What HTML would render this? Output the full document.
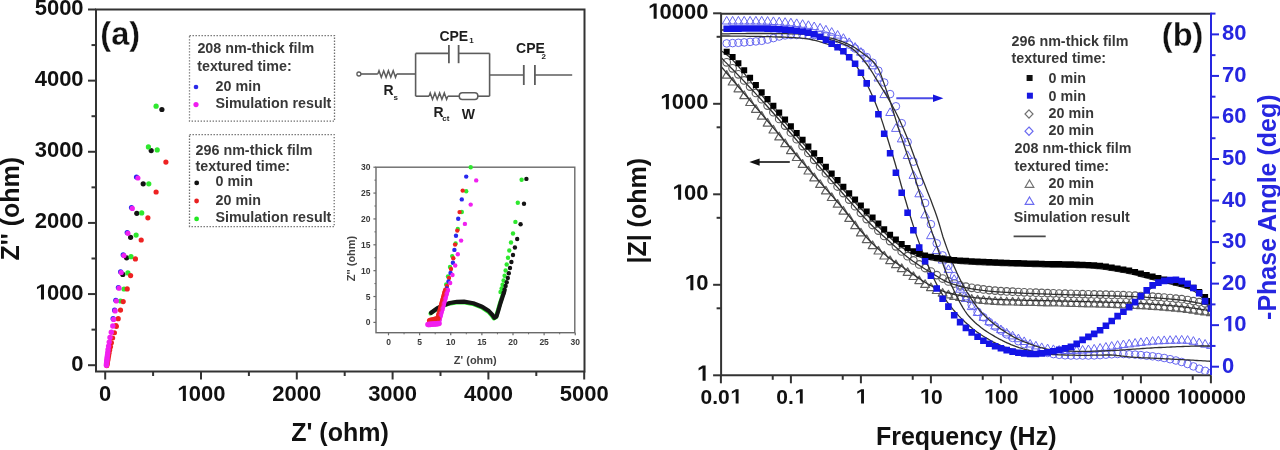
<!DOCTYPE html>
<html><head><meta charset="utf-8"><style>
html,body{margin:0;padding:0;background:#fff;}
svg{display:block;font-family:"Liberation Sans", sans-serif;filter:blur(0.45px);}
</style></head><body>
<svg width="1280" height="450" viewBox="0 0 1280 450">
<defs><clipPath id="clipb"><rect x="721.9" y="14.3" width="488.1" height="360"/></clipPath><clipPath id="clipa"><rect x="97" y="10.5" width="486.5" height="360"/></clipPath></defs>
<rect width="1280" height="450" fill="#fff"/>
<rect x="96" y="9.5" width="488.5" height="362.0" fill="none" stroke="#333333" stroke-width="2"/>
<line x1="105.20" y1="371.50" x2="105.20" y2="379.50" stroke="#333333" stroke-width="2" />
<text x="99.08" y="401.00" font-size="22" text-anchor="start" fill="#111" font-weight="bold" >0</text>
<line x1="88.00" y1="365.20" x2="96.00" y2="365.20" stroke="#333333" stroke-width="2" />
<text x="71.36" y="370.70" font-size="22" text-anchor="start" fill="#111" font-weight="bold" >0</text>
<line x1="201.00" y1="371.50" x2="201.00" y2="379.50" stroke="#333333" stroke-width="2" />
<polygon points="182.85,401.00 185.86,401.00 185.86,385.86 183.01,385.86 178.84,388.38 178.84,390.79 182.85,388.43" fill="#111"/>
<text x="188.76" y="401.00" font-size="22" text-anchor="start" fill="#111" font-weight="bold" >000</text>
<line x1="88.00" y1="294.06" x2="96.00" y2="294.06" stroke="#333333" stroke-width="2" />
<polygon points="40.97,299.56 43.99,299.56 43.99,284.42 41.14,284.42 36.97,286.94 36.97,289.35 40.97,286.99" fill="#111"/>
<text x="46.89" y="299.56" font-size="22" text-anchor="start" fill="#111" font-weight="bold" >000</text>
<line x1="296.80" y1="371.50" x2="296.80" y2="379.50" stroke="#333333" stroke-width="2" />
<text x="272.33" y="401.00" font-size="22" text-anchor="start" fill="#111" font-weight="bold" >2000</text>
<line x1="88.00" y1="222.92" x2="96.00" y2="222.92" stroke="#333333" stroke-width="2" />
<text x="34.66" y="228.42" font-size="22" text-anchor="start" fill="#111" font-weight="bold" >2000</text>
<line x1="392.60" y1="371.50" x2="392.60" y2="379.50" stroke="#333333" stroke-width="2" />
<text x="368.13" y="401.00" font-size="22" text-anchor="start" fill="#111" font-weight="bold" >3000</text>
<line x1="88.00" y1="151.78" x2="96.00" y2="151.78" stroke="#333333" stroke-width="2" />
<text x="34.66" y="157.28" font-size="22" text-anchor="start" fill="#111" font-weight="bold" >3000</text>
<line x1="488.40" y1="371.50" x2="488.40" y2="379.50" stroke="#333333" stroke-width="2" />
<text x="463.93" y="401.00" font-size="22" text-anchor="start" fill="#111" font-weight="bold" >4000</text>
<line x1="88.00" y1="80.64" x2="96.00" y2="80.64" stroke="#333333" stroke-width="2" />
<text x="34.66" y="86.14" font-size="22" text-anchor="start" fill="#111" font-weight="bold" >4000</text>
<line x1="584.20" y1="371.50" x2="584.20" y2="379.50" stroke="#333333" stroke-width="2" />
<text x="559.73" y="401.00" font-size="22" text-anchor="start" fill="#111" font-weight="bold" >5000</text>
<line x1="88.00" y1="9.50" x2="96.00" y2="9.50" stroke="#333333" stroke-width="2" />
<text x="34.66" y="15.00" font-size="22" text-anchor="start" fill="#111" font-weight="bold" >5000</text>
<line x1="153.10" y1="371.50" x2="153.10" y2="376.00" stroke="#333333" stroke-width="2" />
<line x1="91.50" y1="329.63" x2="96.00" y2="329.63" stroke="#333333" stroke-width="2" />
<line x1="248.90" y1="371.50" x2="248.90" y2="376.00" stroke="#333333" stroke-width="2" />
<line x1="91.50" y1="258.49" x2="96.00" y2="258.49" stroke="#333333" stroke-width="2" />
<line x1="344.70" y1="371.50" x2="344.70" y2="376.00" stroke="#333333" stroke-width="2" />
<line x1="91.50" y1="187.35" x2="96.00" y2="187.35" stroke="#333333" stroke-width="2" />
<line x1="440.50" y1="371.50" x2="440.50" y2="376.00" stroke="#333333" stroke-width="2" />
<line x1="91.50" y1="116.21" x2="96.00" y2="116.21" stroke="#333333" stroke-width="2" />
<line x1="536.30" y1="371.50" x2="536.30" y2="376.00" stroke="#333333" stroke-width="2" />
<line x1="91.50" y1="45.07" x2="96.00" y2="45.07" stroke="#333333" stroke-width="2" />
<text x="340.00" y="440.60" font-size="25" text-anchor="middle" fill="#111" font-weight="bold" >Z' (ohm)</text>
<text transform="translate(18.5,208.7) rotate(-90)" font-size="25" font-weight="bold" text-anchor="middle" fill="#111">Z'' (ohm)</text>
<text x="100.30" y="44.70" font-size="32.6" text-anchor="start" fill="#111" font-weight="bold" stroke="#fff" stroke-width="0.3">(a)</text>
<line x1="721.10" y1="13.70" x2="1211.00" y2="13.70" stroke="#333333" stroke-width="2" />
<line x1="721.10" y1="375.30" x2="1211.00" y2="375.30" stroke="#333333" stroke-width="2" />
<line x1="721.10" y1="12.70" x2="721.10" y2="376.30" stroke="#333333" stroke-width="2" />
<line x1="1211.00" y1="12.70" x2="1211.00" y2="375.30" stroke="#2626e0" stroke-width="2" />
<line x1="720.90" y1="375.30" x2="720.90" y2="383.30" stroke="#333333" stroke-width="2" />
<text x="700.46" y="403.60" font-size="21" text-anchor="start" fill="#111" font-weight="bold" >0.0</text>
<polygon points="735.69,403.60 738.57,403.60 738.57,389.15 735.84,389.15 731.86,391.55 731.86,393.86 735.69,391.60" fill="#111"/>
<line x1="772.73" y1="375.30" x2="772.73" y2="379.80" stroke="#333333" stroke-width="2" />
<line x1="790.90" y1="375.30" x2="790.90" y2="383.30" stroke="#333333" stroke-width="2" />
<text x="776.30" y="403.60" font-size="21" text-anchor="start" fill="#111" font-weight="bold" >0.</text>
<polygon points="799.85,403.60 802.73,403.60 802.73,389.15 800.00,389.15 796.02,391.55 796.02,393.86 799.85,391.60" fill="#111"/>
<line x1="842.73" y1="375.30" x2="842.73" y2="379.80" stroke="#333333" stroke-width="2" />
<line x1="860.90" y1="375.30" x2="860.90" y2="383.30" stroke="#333333" stroke-width="2" />
<polygon points="861.09,403.60 863.97,403.60 863.97,389.15 861.24,389.15 857.26,391.55 857.26,393.86 861.09,391.60" fill="#111"/>
<line x1="912.73" y1="375.30" x2="912.73" y2="379.80" stroke="#333333" stroke-width="2" />
<line x1="930.90" y1="375.30" x2="930.90" y2="383.30" stroke="#333333" stroke-width="2" />
<polygon points="925.25,403.60 928.13,403.60 928.13,389.15 925.40,389.15 921.43,391.55 921.43,393.86 925.25,391.60" fill="#111"/>
<text x="930.90" y="403.60" font-size="21" text-anchor="start" fill="#111" font-weight="bold" >0</text>
<line x1="982.73" y1="375.30" x2="982.73" y2="379.80" stroke="#333333" stroke-width="2" />
<line x1="1000.90" y1="375.30" x2="1000.90" y2="383.30" stroke="#333333" stroke-width="2" />
<polygon points="989.41,403.60 992.29,403.60 992.29,389.15 989.56,389.15 985.59,391.55 985.59,393.86 989.41,391.60" fill="#111"/>
<text x="995.06" y="403.60" font-size="21" text-anchor="start" fill="#111" font-weight="bold" >00</text>
<line x1="1052.73" y1="375.30" x2="1052.73" y2="379.80" stroke="#333333" stroke-width="2" />
<line x1="1070.90" y1="375.30" x2="1070.90" y2="383.30" stroke="#333333" stroke-width="2" />
<polygon points="1053.57,403.60 1056.45,403.60 1056.45,389.15 1053.72,389.15 1049.75,391.55 1049.75,393.86 1053.57,391.60" fill="#111"/>
<text x="1059.22" y="403.60" font-size="21" text-anchor="start" fill="#111" font-weight="bold" >000</text>
<line x1="1122.73" y1="375.30" x2="1122.73" y2="379.80" stroke="#333333" stroke-width="2" />
<line x1="1140.90" y1="375.30" x2="1140.90" y2="383.30" stroke="#333333" stroke-width="2" />
<polygon points="1117.73,403.60 1120.61,403.60 1120.61,389.15 1117.89,389.15 1113.91,391.55 1113.91,393.86 1117.73,391.60" fill="#111"/>
<text x="1123.38" y="403.60" font-size="21" text-anchor="start" fill="#111" font-weight="bold" >0000</text>
<line x1="1192.73" y1="375.30" x2="1192.73" y2="379.80" stroke="#333333" stroke-width="2" />
<line x1="1210.90" y1="375.30" x2="1210.90" y2="383.30" stroke="#333333" stroke-width="2" />
<polygon points="1181.89,403.60 1184.77,403.60 1184.77,389.15 1182.05,389.15 1178.07,391.55 1178.07,393.86 1181.89,391.60" fill="#111"/>
<text x="1187.54" y="403.60" font-size="21" text-anchor="start" fill="#111" font-weight="bold" >00000</text>
<line x1="713.10" y1="375.30" x2="721.10" y2="375.30" stroke="#333333" stroke-width="2" />
<polygon points="702.58,380.70 705.60,380.70 705.60,365.56 702.74,365.56 698.57,368.08 698.57,370.49 702.58,368.13" fill="#111"/>
<line x1="716.60" y1="308.30" x2="721.10" y2="308.30" stroke="#333333" stroke-width="2" />
<line x1="713.10" y1="284.80" x2="721.10" y2="284.80" stroke="#333333" stroke-width="2" />
<polygon points="690.35,290.20 693.36,290.20 693.36,275.06 690.51,275.06 686.34,277.58 686.34,279.99 690.35,277.63" fill="#111"/>
<text x="696.26" y="290.20" font-size="22" text-anchor="start" fill="#111" font-weight="bold" >0</text>
<line x1="716.60" y1="217.80" x2="721.10" y2="217.80" stroke="#333333" stroke-width="2" />
<line x1="713.10" y1="194.30" x2="721.10" y2="194.30" stroke="#333333" stroke-width="2" />
<polygon points="678.11,199.70 681.13,199.70 681.13,184.56 678.27,184.56 674.10,187.08 674.10,189.49 678.11,187.13" fill="#111"/>
<text x="684.03" y="199.70" font-size="22" text-anchor="start" fill="#111" font-weight="bold" >00</text>
<line x1="716.60" y1="127.30" x2="721.10" y2="127.30" stroke="#333333" stroke-width="2" />
<line x1="713.10" y1="103.80" x2="721.10" y2="103.80" stroke="#333333" stroke-width="2" />
<polygon points="665.88,109.20 668.89,109.20 668.89,94.06 666.04,94.06 661.87,96.58 661.87,98.99 665.88,96.63" fill="#111"/>
<text x="671.79" y="109.20" font-size="22" text-anchor="start" fill="#111" font-weight="bold" >000</text>
<line x1="716.60" y1="36.80" x2="721.10" y2="36.80" stroke="#333333" stroke-width="2" />
<line x1="713.10" y1="13.30" x2="721.10" y2="13.30" stroke="#333333" stroke-width="2" />
<polygon points="653.64,18.70 656.66,18.70 656.66,3.56 653.80,3.56 649.63,6.08 649.63,8.49 653.64,6.13" fill="#111"/>
<text x="659.56" y="18.70" font-size="22" text-anchor="start" fill="#111" font-weight="bold" >0000</text>
<line x1="1211.00" y1="366.70" x2="1219.00" y2="366.70" stroke="#2626e0" stroke-width="2" />
<text x="1222.00" y="372.70" font-size="22" text-anchor="start" fill="#2626e0" font-weight="bold" >0</text>
<line x1="1211.00" y1="325.16" x2="1219.00" y2="325.16" stroke="#2626e0" stroke-width="2" />
<polygon points="1228.32,331.16 1231.33,331.16 1231.33,316.02 1228.48,316.02 1224.31,318.54 1224.31,320.95 1228.32,318.59" fill="#2626e0"/>
<text x="1234.24" y="331.16" font-size="22" text-anchor="start" fill="#2626e0" font-weight="bold" >0</text>
<line x1="1211.00" y1="283.62" x2="1219.00" y2="283.62" stroke="#2626e0" stroke-width="2" />
<text x="1222.00" y="289.62" font-size="22" text-anchor="start" fill="#2626e0" font-weight="bold" >20</text>
<line x1="1211.00" y1="242.08" x2="1219.00" y2="242.08" stroke="#2626e0" stroke-width="2" />
<text x="1222.00" y="248.08" font-size="22" text-anchor="start" fill="#2626e0" font-weight="bold" >30</text>
<line x1="1211.00" y1="200.54" x2="1219.00" y2="200.54" stroke="#2626e0" stroke-width="2" />
<text x="1222.00" y="206.54" font-size="22" text-anchor="start" fill="#2626e0" font-weight="bold" >40</text>
<line x1="1211.00" y1="159.00" x2="1219.00" y2="159.00" stroke="#2626e0" stroke-width="2" />
<text x="1222.00" y="165.00" font-size="22" text-anchor="start" fill="#2626e0" font-weight="bold" >50</text>
<line x1="1211.00" y1="117.46" x2="1219.00" y2="117.46" stroke="#2626e0" stroke-width="2" />
<text x="1222.00" y="123.46" font-size="22" text-anchor="start" fill="#2626e0" font-weight="bold" >60</text>
<line x1="1211.00" y1="75.92" x2="1219.00" y2="75.92" stroke="#2626e0" stroke-width="2" />
<text x="1222.00" y="81.92" font-size="22" text-anchor="start" fill="#2626e0" font-weight="bold" >70</text>
<line x1="1211.00" y1="34.38" x2="1219.00" y2="34.38" stroke="#2626e0" stroke-width="2" />
<text x="1222.00" y="40.38" font-size="22" text-anchor="start" fill="#2626e0" font-weight="bold" >80</text>
<line x1="1211.00" y1="345.93" x2="1215.50" y2="345.93" stroke="#2626e0" stroke-width="2" />
<line x1="1211.00" y1="304.39" x2="1215.50" y2="304.39" stroke="#2626e0" stroke-width="2" />
<line x1="1211.00" y1="262.85" x2="1215.50" y2="262.85" stroke="#2626e0" stroke-width="2" />
<line x1="1211.00" y1="221.31" x2="1215.50" y2="221.31" stroke="#2626e0" stroke-width="2" />
<line x1="1211.00" y1="179.77" x2="1215.50" y2="179.77" stroke="#2626e0" stroke-width="2" />
<line x1="1211.00" y1="138.23" x2="1215.50" y2="138.23" stroke="#2626e0" stroke-width="2" />
<line x1="1211.00" y1="96.69" x2="1215.50" y2="96.69" stroke="#2626e0" stroke-width="2" />
<line x1="1211.00" y1="55.15" x2="1215.50" y2="55.15" stroke="#2626e0" stroke-width="2" />
<line x1="1211.00" y1="13.61" x2="1215.50" y2="13.61" stroke="#2626e0" stroke-width="2" />
<text x="966.20" y="444.50" font-size="25" text-anchor="middle" fill="#111" font-weight="bold" >Frequency (Hz)</text>
<text transform="translate(645.5,210.8) rotate(-90)" font-size="25" font-weight="bold" text-anchor="middle" fill="#111">|Z| (ohm)</text>
<text transform="translate(1275.8,207.2) rotate(-90)" font-size="25" font-weight="bold" text-anchor="middle" fill="#2626e0">-Phase Angle (deg)</text>
<text x="1161.80" y="46.20" font-size="32.6" text-anchor="start" fill="#111" font-weight="bold" stroke="#fff" stroke-width="0.3">(b)</text>
<rect x="189.5" y="35.6" width="145" height="85.5" fill="none" stroke="#707070" stroke-width="1.3" stroke-dasharray="1.4 1.6"/>
<rect x="189.5" y="134.6" width="144.7" height="92" fill="none" stroke="#707070" stroke-width="1.3" stroke-dasharray="1.4 1.6"/>
<text x="197.40" y="53.40" font-size="14.3" text-anchor="start" fill="#383838" font-weight="bold" >208 nm-thick film</text>
<text x="197.20" y="71.40" font-size="14.3" text-anchor="start" fill="#383838" font-weight="bold" >textured time:</text>
<text x="215.60" y="90.60" font-size="14.3" text-anchor="start" fill="#383838" font-weight="bold" >20 min</text>
<text x="215.40" y="108.20" font-size="14.3" text-anchor="start" fill="#383838" font-weight="bold" >Simulation result</text>
<circle cx="196" cy="87" r="2.3" fill="#2a2ae8"/>
<circle cx="196" cy="104.6" r="2.6" fill="#f01cf0"/>
<text x="195.60" y="154.70" font-size="14.3" text-anchor="start" fill="#383838" font-weight="bold" >296 nm-thick film</text>
<text x="195.60" y="171.40" font-size="14.3" text-anchor="start" fill="#383838" font-weight="bold" >textured time:</text>
<text x="215.60" y="186.20" font-size="14.3" text-anchor="start" fill="#383838" font-weight="bold" >0 min</text>
<text x="215.60" y="204.50" font-size="14.3" text-anchor="start" fill="#383838" font-weight="bold" >20 min</text>
<text x="215.40" y="221.80" font-size="14.3" text-anchor="start" fill="#383838" font-weight="bold" >Simulation result</text>
<circle cx="196.7" cy="182.9" r="2.4" fill="#111"/>
<circle cx="196.6" cy="201" r="2.4" fill="#e82020"/>
<circle cx="196.6" cy="218.9" r="2.4" fill="#22e822"/>
<text x="1011.60" y="45.50" font-size="14.3" text-anchor="start" fill="#383838" font-weight="bold" >296 nm-thick film</text>
<text x="1011.60" y="63.40" font-size="14.3" text-anchor="start" fill="#383838" font-weight="bold" >textured time:</text>
<rect x="1026.6" y="75" width="6" height="6" fill="#111"/>
<text x="1048.60" y="83.00" font-size="14.3" text-anchor="start" fill="#383838" font-weight="bold" >0 min</text>
<rect x="1026.9" y="92.7" width="6" height="6" fill="#1818e0"/>
<text x="1048.60" y="100.70" font-size="14.3" text-anchor="start" fill="#383838" font-weight="bold" >0 min</text>
<path d="M1029 109.8 L1033 114 L1029 118.2 L1025 114 Z" fill="none" stroke="#707070" stroke-width="1.2"/>
<text x="1048.60" y="118.00" font-size="14.3" text-anchor="start" fill="#383838" font-weight="bold" >20 min</text>
<path d="M1029 127 L1033 131.2 L1029 135.4 L1025 131.2 Z" fill="none" stroke="#6a6af0" stroke-width="1.2"/>
<text x="1048.60" y="135.20" font-size="14.3" text-anchor="start" fill="#383838" font-weight="bold" >20 min</text>
<text x="1014.60" y="153.20" font-size="14.3" text-anchor="start" fill="#383838" font-weight="bold" >208 nm-thick film</text>
<text x="1014.60" y="171.10" font-size="14.3" text-anchor="start" fill="#383838" font-weight="bold" >textured time:</text>
<path d="M1029.5 180 L1033.8 187.3 L1025.2 187.3 Z" fill="none" stroke="#707070" stroke-width="1.2"/>
<text x="1048.60" y="188.20" font-size="14.3" text-anchor="start" fill="#383838" font-weight="bold" >20 min</text>
<path d="M1029.5 197 L1033.8 204.3 L1025.2 204.3 Z" fill="none" stroke="#6a6af0" stroke-width="1.2"/>
<text x="1048.60" y="205.40" font-size="14.3" text-anchor="start" fill="#383838" font-weight="bold" >20 min</text>
<text x="1013.80" y="222.40" font-size="14.3" text-anchor="start" fill="#383838" font-weight="bold" >Simulation result</text>
<line x1="1013.60" y1="236.40" x2="1045.70" y2="236.40" stroke="#4a4a4a" stroke-width="1.8" />
<circle cx="358.9" cy="74" r="2" fill="none" stroke="#5c5c5c" stroke-width="1.3"/>
<line x1="360.90" y1="74.00" x2="377.80" y2="74.00" stroke="#5c5c5c" stroke-width="1.6" />
<polyline points="377.8,74.0 379.0,70.8 381.3,77.2 383.7,70.8 386.1,77.2 388.4,70.8 390.8,77.2 393.2,70.8 395.5,77.2 396.7,74.0" fill="none" stroke="#5c5c5c" stroke-width="1.5"/>
<line x1="396.70" y1="74.00" x2="415.60" y2="74.00" stroke="#5c5c5c" stroke-width="1.6" />
<line x1="415.60" y1="53.40" x2="415.60" y2="96.20" stroke="#5c5c5c" stroke-width="1.6" />
<line x1="415.60" y1="53.40" x2="448.90" y2="53.40" stroke="#5c5c5c" stroke-width="1.6" />
<line x1="448.90" y1="45.00" x2="448.90" y2="63.20" stroke="#5c5c5c" stroke-width="1.8" />
<line x1="458.60" y1="45.00" x2="458.60" y2="63.20" stroke="#5c5c5c" stroke-width="1.8" />
<line x1="458.60" y1="53.40" x2="489.60" y2="53.40" stroke="#5c5c5c" stroke-width="1.6" />
<line x1="489.60" y1="53.40" x2="489.60" y2="96.20" stroke="#5c5c5c" stroke-width="1.6" />
<line x1="415.60" y1="96.20" x2="429.00" y2="96.20" stroke="#5c5c5c" stroke-width="1.6" />
<polyline points="429.0,96.2 430.2,93.0 432.5,99.4 434.9,93.0 437.2,99.4 439.6,93.0 441.9,99.4 444.3,93.0 446.6,99.4 447.8,96.2" fill="none" stroke="#5c5c5c" stroke-width="1.5"/>
<line x1="447.80" y1="96.20" x2="459.30" y2="96.20" stroke="#5c5c5c" stroke-width="1.6" />
<rect x="459.3" y="92.8" width="18.5" height="6.6" rx="3" fill="none" stroke="#5c5c5c" stroke-width="1.5"/>
<line x1="477.80" y1="96.20" x2="489.60" y2="96.20" stroke="#5c5c5c" stroke-width="1.6" />
<line x1="489.60" y1="75.00" x2="523.80" y2="75.00" stroke="#5c5c5c" stroke-width="1.6" />
<line x1="523.80" y1="65.00" x2="523.80" y2="85.00" stroke="#5c5c5c" stroke-width="1.8" />
<line x1="534.90" y1="65.00" x2="534.90" y2="85.00" stroke="#5c5c5c" stroke-width="1.8" />
<line x1="534.90" y1="75.00" x2="572.20" y2="75.00" stroke="#5c5c5c" stroke-width="1.6" />
<text x="439.40" y="41.40" font-size="14" text-anchor="start" fill="#1e1e1e" font-weight="bold" >CPE</text>
<text x="469.20" y="43.20" font-size="8" text-anchor="start" fill="#1e1e1e" font-weight="bold" >1</text>
<text x="516.10" y="52.80" font-size="14" text-anchor="start" fill="#1e1e1e" font-weight="bold" >CPE</text>
<text x="541.60" y="58.60" font-size="8" text-anchor="start" fill="#1e1e1e" font-weight="bold" >2</text>
<text x="383.60" y="95.20" font-size="14" text-anchor="start" fill="#1e1e1e" font-weight="bold" >R</text>
<text x="393.60" y="99.60" font-size="8" text-anchor="start" fill="#1e1e1e" font-weight="bold" >s</text>
<text x="433.60" y="116.80" font-size="14" text-anchor="start" fill="#1e1e1e" font-weight="bold" >R</text>
<text x="442.20" y="120.60" font-size="8" text-anchor="start" fill="#1e1e1e" font-weight="bold" >ct</text>
<text x="461.80" y="119.40" font-size="14" text-anchor="start" fill="#1e1e1e" font-weight="bold" >W</text>
<g clip-path="url(#clipb)">
<path d="M726.7 70.6L731.1 78.2L722.3 78.2ZM732.6 77.4L737.0 85.0L728.2 85.0ZM738.4 84.2L742.8 91.8L734.0 91.8ZM744.2 91.0L748.6 98.6L739.8 98.6ZM750.1 97.8L754.5 105.5L745.7 105.5ZM755.9 104.7L760.3 112.3L751.5 112.3ZM761.7 111.6L766.1 119.2L757.3 119.2ZM767.6 118.5L772.0 126.1L763.2 126.1ZM773.4 125.3L777.8 133.0L769.0 133.0ZM779.2 132.2L783.6 139.9L774.8 139.9ZM785.1 139.1L789.5 146.7L780.7 146.7ZM790.9 146.0L795.3 153.6L786.5 153.6ZM796.7 152.8L801.1 160.5L792.3 160.5ZM802.6 159.6L807.0 167.3L798.2 167.3ZM808.4 166.4L812.8 174.0L804.0 174.0ZM814.2 173.1L818.6 180.8L809.8 180.8ZM820.1 179.8L824.5 187.4L815.7 187.4ZM825.9 186.3L830.3 193.9L821.5 193.9ZM831.7 192.9L836.1 200.5L827.3 200.5ZM837.6 199.6L842.0 207.2L833.2 207.2ZM843.4 206.5L847.8 214.1L839.0 214.1ZM849.2 213.7L853.6 221.4L844.8 221.4ZM855.1 221.1L859.5 228.7L850.7 228.7ZM860.9 228.3L865.3 235.9L856.5 235.9ZM866.7 235.0L871.1 242.6L862.3 242.6ZM872.6 241.0L877.0 248.6L868.2 248.6ZM878.4 246.4L882.8 254.0L874.0 254.0ZM884.2 251.4L888.6 259.0L879.8 259.0ZM890.1 256.0L894.5 263.6L885.7 263.6ZM895.9 260.1L900.3 267.7L891.5 267.7ZM901.7 263.9L906.1 271.6L897.3 271.6ZM907.6 267.8L912.0 275.4L903.2 275.4ZM913.4 271.9L917.8 279.5L909.0 279.5ZM919.2 276.0L923.6 283.6L914.8 283.6ZM925.1 279.8L929.5 287.4L920.7 287.4ZM930.9 283.0L935.3 290.6L926.5 290.6ZM936.7 285.9L941.1 293.5L932.3 293.5ZM942.6 288.5L947.0 296.1L938.2 296.1ZM948.4 290.3L952.8 297.9L944.0 297.9ZM954.2 291.7L958.6 299.4L949.8 299.4ZM960.1 292.9L964.5 300.5L955.7 300.5ZM965.9 293.9L970.3 301.5L961.5 301.5ZM971.7 294.6L976.1 302.3L967.3 302.3ZM977.6 295.3L982.0 302.9L973.2 302.9ZM983.4 295.8L987.8 303.5L979.0 303.5ZM989.2 296.3L993.6 303.9L984.8 303.9ZM995.1 296.7L999.5 304.3L990.7 304.3ZM1000.9 297.0L1005.3 304.6L996.5 304.6ZM1006.7 297.2L1011.1 304.8L1002.3 304.8ZM1012.6 297.4L1017.0 305.0L1008.2 305.0ZM1018.4 297.5L1022.8 305.1L1014.0 305.1ZM1024.2 297.7L1028.6 305.3L1019.8 305.3ZM1030.1 297.8L1034.5 305.4L1025.7 305.4ZM1035.9 297.9L1040.3 305.5L1031.5 305.5ZM1041.7 298.0L1046.1 305.6L1037.3 305.6ZM1047.6 298.1L1052.0 305.8L1043.2 305.8ZM1053.4 298.3L1057.8 305.9L1049.0 305.9ZM1059.2 298.4L1063.6 306.0L1054.8 306.0ZM1065.1 298.6L1069.5 306.2L1060.7 306.2ZM1070.9 298.7L1075.3 306.3L1066.5 306.3ZM1076.7 298.8L1081.1 306.5L1072.3 306.5ZM1082.6 299.0L1087.0 306.6L1078.2 306.6ZM1088.4 299.1L1092.8 306.8L1084.0 306.8ZM1094.2 299.3L1098.6 306.9L1089.8 306.9ZM1100.1 299.4L1104.5 307.1L1095.7 307.1ZM1105.9 299.6L1110.3 307.2L1101.5 307.2ZM1111.7 299.8L1116.1 307.4L1107.3 307.4ZM1117.6 300.0L1122.0 307.6L1113.2 307.6ZM1123.4 300.2L1127.8 307.8L1119.0 307.8ZM1129.2 300.4L1133.6 308.0L1124.8 308.0ZM1135.1 300.7L1139.5 308.3L1130.7 308.3ZM1140.9 301.0L1145.3 308.6L1136.5 308.6ZM1146.7 301.3L1151.1 308.9L1142.3 308.9ZM1152.6 301.7L1157.0 309.3L1148.2 309.3ZM1158.4 302.1L1162.8 309.7L1154.0 309.7ZM1164.2 302.5L1168.6 310.2L1159.8 310.2ZM1170.1 303.0L1174.5 310.6L1165.7 310.6ZM1175.9 303.5L1180.3 311.2L1171.5 311.2ZM1181.7 304.1L1186.1 311.7L1177.3 311.7ZM1187.6 304.8L1192.0 312.4L1183.2 312.4ZM1193.4 305.6L1197.8 313.2L1189.0 313.2ZM1199.2 306.5L1203.6 314.1L1194.8 314.1ZM1205.1 307.3L1209.5 314.9L1200.7 314.9ZM1210.9 308.0L1215.3 315.7L1206.5 315.7Z" fill="none" stroke="#606060" stroke-width="1.2" stroke-linejoin="round"/>
<circle cx="726.7" cy="62.3" r="3.8" fill="none" stroke="#606060" stroke-width="1.15"/>
<circle cx="732.6" cy="68.3" r="3.8" fill="none" stroke="#606060" stroke-width="1.15"/>
<circle cx="738.4" cy="74.3" r="3.8" fill="none" stroke="#606060" stroke-width="1.15"/>
<circle cx="744.2" cy="80.4" r="3.8" fill="none" stroke="#606060" stroke-width="1.15"/>
<circle cx="750.1" cy="86.6" r="3.8" fill="none" stroke="#606060" stroke-width="1.15"/>
<circle cx="755.9" cy="92.9" r="3.8" fill="none" stroke="#606060" stroke-width="1.15"/>
<circle cx="761.7" cy="99.2" r="3.8" fill="none" stroke="#606060" stroke-width="1.15"/>
<circle cx="767.6" cy="105.6" r="3.8" fill="none" stroke="#606060" stroke-width="1.15"/>
<circle cx="773.4" cy="112.2" r="3.8" fill="none" stroke="#606060" stroke-width="1.15"/>
<circle cx="779.2" cy="118.9" r="3.8" fill="none" stroke="#606060" stroke-width="1.15"/>
<circle cx="785.1" cy="125.6" r="3.8" fill="none" stroke="#606060" stroke-width="1.15"/>
<circle cx="790.9" cy="132.4" r="3.8" fill="none" stroke="#606060" stroke-width="1.15"/>
<circle cx="796.7" cy="139.2" r="3.8" fill="none" stroke="#606060" stroke-width="1.15"/>
<circle cx="802.6" cy="146.1" r="3.8" fill="none" stroke="#606060" stroke-width="1.15"/>
<circle cx="808.4" cy="152.9" r="3.8" fill="none" stroke="#606060" stroke-width="1.15"/>
<circle cx="814.2" cy="159.8" r="3.8" fill="none" stroke="#606060" stroke-width="1.15"/>
<circle cx="820.1" cy="166.5" r="3.8" fill="none" stroke="#606060" stroke-width="1.15"/>
<circle cx="825.9" cy="173.2" r="3.8" fill="none" stroke="#606060" stroke-width="1.15"/>
<circle cx="831.7" cy="179.9" r="3.8" fill="none" stroke="#606060" stroke-width="1.15"/>
<circle cx="837.6" cy="186.5" r="3.8" fill="none" stroke="#606060" stroke-width="1.15"/>
<circle cx="843.4" cy="193.1" r="3.8" fill="none" stroke="#606060" stroke-width="1.15"/>
<circle cx="849.2" cy="199.6" r="3.8" fill="none" stroke="#606060" stroke-width="1.15"/>
<circle cx="855.1" cy="206.2" r="3.8" fill="none" stroke="#606060" stroke-width="1.15"/>
<circle cx="860.9" cy="212.8" r="3.8" fill="none" stroke="#606060" stroke-width="1.15"/>
<circle cx="866.7" cy="219.1" r="3.8" fill="none" stroke="#606060" stroke-width="1.15"/>
<circle cx="872.6" cy="225.0" r="3.8" fill="none" stroke="#606060" stroke-width="1.15"/>
<circle cx="878.4" cy="230.6" r="3.8" fill="none" stroke="#606060" stroke-width="1.15"/>
<circle cx="884.2" cy="235.9" r="3.8" fill="none" stroke="#606060" stroke-width="1.15"/>
<circle cx="890.1" cy="241.1" r="3.8" fill="none" stroke="#606060" stroke-width="1.15"/>
<circle cx="895.9" cy="246.3" r="3.8" fill="none" stroke="#606060" stroke-width="1.15"/>
<circle cx="901.7" cy="251.4" r="3.8" fill="none" stroke="#606060" stroke-width="1.15"/>
<circle cx="907.6" cy="256.2" r="3.8" fill="none" stroke="#606060" stroke-width="1.15"/>
<circle cx="913.4" cy="260.4" r="3.8" fill="none" stroke="#606060" stroke-width="1.15"/>
<circle cx="919.2" cy="264.4" r="3.8" fill="none" stroke="#606060" stroke-width="1.15"/>
<circle cx="925.1" cy="268.0" r="3.8" fill="none" stroke="#606060" stroke-width="1.15"/>
<circle cx="930.9" cy="271.5" r="3.8" fill="none" stroke="#606060" stroke-width="1.15"/>
<circle cx="936.7" cy="275.1" r="3.8" fill="none" stroke="#606060" stroke-width="1.15"/>
<circle cx="942.6" cy="278.5" r="3.8" fill="none" stroke="#606060" stroke-width="1.15"/>
<circle cx="948.4" cy="281.4" r="3.8" fill="none" stroke="#606060" stroke-width="1.15"/>
<circle cx="954.2" cy="283.5" r="3.8" fill="none" stroke="#606060" stroke-width="1.15"/>
<circle cx="960.1" cy="285.3" r="3.8" fill="none" stroke="#606060" stroke-width="1.15"/>
<circle cx="965.9" cy="286.7" r="3.8" fill="none" stroke="#606060" stroke-width="1.15"/>
<circle cx="971.7" cy="287.8" r="3.8" fill="none" stroke="#606060" stroke-width="1.15"/>
<circle cx="977.6" cy="288.7" r="3.8" fill="none" stroke="#606060" stroke-width="1.15"/>
<circle cx="983.4" cy="289.4" r="3.8" fill="none" stroke="#606060" stroke-width="1.15"/>
<circle cx="989.2" cy="290.1" r="3.8" fill="none" stroke="#606060" stroke-width="1.15"/>
<circle cx="995.1" cy="290.6" r="3.8" fill="none" stroke="#606060" stroke-width="1.15"/>
<circle cx="1000.9" cy="291.1" r="3.8" fill="none" stroke="#606060" stroke-width="1.15"/>
<circle cx="1006.7" cy="291.4" r="3.8" fill="none" stroke="#606060" stroke-width="1.15"/>
<circle cx="1012.6" cy="291.7" r="3.8" fill="none" stroke="#606060" stroke-width="1.15"/>
<circle cx="1018.4" cy="292.0" r="3.8" fill="none" stroke="#606060" stroke-width="1.15"/>
<circle cx="1024.2" cy="292.3" r="3.8" fill="none" stroke="#606060" stroke-width="1.15"/>
<circle cx="1030.1" cy="292.5" r="3.8" fill="none" stroke="#606060" stroke-width="1.15"/>
<circle cx="1035.9" cy="292.7" r="3.8" fill="none" stroke="#606060" stroke-width="1.15"/>
<circle cx="1041.7" cy="292.9" r="3.8" fill="none" stroke="#606060" stroke-width="1.15"/>
<circle cx="1047.6" cy="293.1" r="3.8" fill="none" stroke="#606060" stroke-width="1.15"/>
<circle cx="1053.4" cy="293.3" r="3.8" fill="none" stroke="#606060" stroke-width="1.15"/>
<circle cx="1059.2" cy="293.5" r="3.8" fill="none" stroke="#606060" stroke-width="1.15"/>
<circle cx="1065.1" cy="293.7" r="3.8" fill="none" stroke="#606060" stroke-width="1.15"/>
<circle cx="1070.9" cy="293.8" r="3.8" fill="none" stroke="#606060" stroke-width="1.15"/>
<circle cx="1076.7" cy="294.0" r="3.8" fill="none" stroke="#606060" stroke-width="1.15"/>
<circle cx="1082.6" cy="294.1" r="3.8" fill="none" stroke="#606060" stroke-width="1.15"/>
<circle cx="1088.4" cy="294.3" r="3.8" fill="none" stroke="#606060" stroke-width="1.15"/>
<circle cx="1094.2" cy="294.4" r="3.8" fill="none" stroke="#606060" stroke-width="1.15"/>
<circle cx="1100.1" cy="294.6" r="3.8" fill="none" stroke="#606060" stroke-width="1.15"/>
<circle cx="1105.9" cy="294.7" r="3.8" fill="none" stroke="#606060" stroke-width="1.15"/>
<circle cx="1111.7" cy="294.9" r="3.8" fill="none" stroke="#606060" stroke-width="1.15"/>
<circle cx="1117.6" cy="295.0" r="3.8" fill="none" stroke="#606060" stroke-width="1.15"/>
<circle cx="1123.4" cy="295.2" r="3.8" fill="none" stroke="#606060" stroke-width="1.15"/>
<circle cx="1129.2" cy="295.5" r="3.8" fill="none" stroke="#606060" stroke-width="1.15"/>
<circle cx="1135.1" cy="295.7" r="3.8" fill="none" stroke="#606060" stroke-width="1.15"/>
<circle cx="1140.9" cy="296.0" r="3.8" fill="none" stroke="#606060" stroke-width="1.15"/>
<circle cx="1146.7" cy="296.3" r="3.8" fill="none" stroke="#606060" stroke-width="1.15"/>
<circle cx="1152.6" cy="296.7" r="3.8" fill="none" stroke="#606060" stroke-width="1.15"/>
<circle cx="1158.4" cy="297.1" r="3.8" fill="none" stroke="#606060" stroke-width="1.15"/>
<circle cx="1164.2" cy="297.5" r="3.8" fill="none" stroke="#606060" stroke-width="1.15"/>
<circle cx="1170.1" cy="298.0" r="3.8" fill="none" stroke="#606060" stroke-width="1.15"/>
<circle cx="1175.9" cy="298.6" r="3.8" fill="none" stroke="#606060" stroke-width="1.15"/>
<circle cx="1181.7" cy="299.2" r="3.8" fill="none" stroke="#606060" stroke-width="1.15"/>
<circle cx="1187.6" cy="300.0" r="3.8" fill="none" stroke="#606060" stroke-width="1.15"/>
<circle cx="1193.4" cy="301.1" r="3.8" fill="none" stroke="#606060" stroke-width="1.15"/>
<circle cx="1199.2" cy="302.2" r="3.8" fill="none" stroke="#606060" stroke-width="1.15"/>
<circle cx="1205.1" cy="303.3" r="3.8" fill="none" stroke="#606060" stroke-width="1.15"/>
<circle cx="1210.9" cy="304.4" r="3.8" fill="none" stroke="#606060" stroke-width="1.15"/>
<path d="M726.7 16.4L731.1 24.0L722.3 24.0ZM732.6 16.4L737.0 24.0L728.2 24.0ZM738.4 16.4L742.8 24.0L734.0 24.0ZM744.2 16.4L748.6 24.0L739.8 24.0ZM750.1 16.4L754.5 24.0L745.7 24.0ZM755.9 16.4L760.3 24.0L751.5 24.0ZM761.7 16.4L766.1 24.1L757.3 24.1ZM767.6 16.6L772.0 24.2L763.2 24.2ZM773.4 16.9L777.8 24.5L769.0 24.5ZM779.2 17.2L783.6 24.9L774.8 24.9ZM785.1 17.7L789.5 25.3L780.7 25.3ZM790.9 18.2L795.3 25.8L786.5 25.8ZM796.7 18.9L801.1 26.5L792.3 26.5ZM802.6 19.7L807.0 27.3L798.2 27.3ZM808.4 20.8L812.8 28.4L804.0 28.4ZM814.2 22.0L818.6 29.6L809.8 29.6ZM820.1 23.4L824.5 31.1L815.7 31.1ZM825.9 25.3L830.3 32.9L821.5 32.9ZM831.7 27.6L836.1 35.2L827.3 35.2ZM837.6 30.5L842.0 38.1L833.2 38.1ZM843.4 33.7L847.8 41.3L839.0 41.3ZM849.2 37.9L853.6 45.5L844.8 45.5ZM855.1 42.6L859.5 50.2L850.7 50.2ZM860.9 47.6L865.3 55.2L856.5 55.2ZM866.7 54.1L871.1 61.7L862.3 61.7ZM872.6 61.2L877.0 68.8L868.2 68.8ZM878.4 73.4L882.8 81.0L874.0 81.0ZM884.2 90.0L888.6 97.6L879.8 97.6ZM890.1 107.9L894.5 115.5L885.7 115.5ZM895.9 123.7L900.3 131.4L891.5 131.4ZM901.7 134.3L906.1 141.9L897.3 141.9ZM907.6 150.9L912.0 158.5L903.2 158.5ZM913.4 170.7L917.8 178.4L909.0 178.4ZM919.2 189.2L923.6 196.8L914.8 196.8ZM925.1 210.3L929.5 217.9L920.7 217.9ZM930.9 231.0L935.3 238.7L926.5 238.7ZM936.7 245.9L941.1 253.5L932.3 253.5ZM942.6 255.4L947.0 263.0L938.2 263.0ZM948.4 264.8L952.8 272.4L944.0 272.4ZM954.2 274.7L958.6 282.3L949.8 282.3ZM960.1 284.5L964.5 292.2L955.7 292.2ZM965.9 293.8L970.3 301.4L961.5 301.4ZM971.7 302.0L976.1 309.6L967.3 309.6ZM977.6 307.9L982.0 315.5L973.2 315.5ZM983.4 312.7L987.8 320.3L979.0 320.3ZM989.2 317.1L993.6 324.7L984.8 324.7ZM995.1 321.3L999.5 328.9L990.7 328.9ZM1000.9 325.0L1005.3 332.6L996.5 332.6ZM1006.7 328.3L1011.1 335.9L1002.3 335.9ZM1012.6 331.3L1017.0 338.9L1008.2 338.9ZM1018.4 334.1L1022.8 341.7L1014.0 341.7ZM1024.2 336.9L1028.6 344.5L1019.8 344.5ZM1030.1 339.4L1034.5 347.0L1025.7 347.0ZM1035.9 341.3L1040.3 348.9L1031.5 348.9ZM1041.7 342.9L1046.1 350.5L1037.3 350.5ZM1047.6 344.1L1052.0 351.7L1043.2 351.7ZM1053.4 344.9L1057.8 352.5L1049.0 352.5ZM1059.2 345.5L1063.6 353.1L1054.8 353.1ZM1065.1 345.9L1069.5 353.5L1060.7 353.5ZM1070.9 345.9L1075.3 353.5L1066.5 353.5ZM1076.7 345.7L1081.1 353.3L1072.3 353.3ZM1082.6 345.4L1087.0 353.1L1078.2 353.1ZM1088.4 345.0L1092.8 352.7L1084.0 352.7ZM1094.2 344.4L1098.6 352.0L1089.8 352.0ZM1100.1 343.5L1104.5 351.1L1095.7 351.1ZM1105.9 342.5L1110.3 350.2L1101.5 350.2ZM1111.7 341.6L1116.1 349.2L1107.3 349.2ZM1117.6 340.7L1122.0 348.4L1113.2 348.4ZM1123.4 340.0L1127.8 347.6L1119.0 347.6ZM1129.2 339.3L1133.6 346.9L1124.8 346.9ZM1135.1 338.5L1139.5 346.1L1130.7 346.1ZM1140.9 337.8L1145.3 345.4L1136.5 345.4ZM1146.7 337.1L1151.1 344.8L1142.3 344.8ZM1152.6 336.6L1157.0 344.2L1148.2 344.2ZM1158.4 336.2L1162.8 343.8L1154.0 343.8ZM1164.2 335.9L1168.6 343.6L1159.8 343.6ZM1170.1 335.7L1174.5 343.3L1165.7 343.3ZM1175.9 335.5L1180.3 343.2L1171.5 343.2ZM1181.7 335.4L1186.1 343.1L1177.3 343.1ZM1187.6 335.6L1192.0 343.3L1183.2 343.3ZM1193.4 336.6L1197.8 344.3L1189.0 344.3ZM1199.2 338.1L1203.6 345.7L1194.8 345.7ZM1205.1 339.5L1209.5 347.2L1200.7 347.2ZM1210.9 340.8L1215.3 348.4L1206.5 348.4Z" fill="none" stroke="#6666f0" stroke-width="1.0" stroke-linejoin="round"/>
<circle cx="726.7" cy="43.4" r="3.8" fill="none" stroke="#6666f0" stroke-width="1.0"/>
<circle cx="732.6" cy="43.1" r="3.8" fill="none" stroke="#6666f0" stroke-width="1.0"/>
<circle cx="738.4" cy="42.8" r="3.8" fill="none" stroke="#6666f0" stroke-width="1.0"/>
<circle cx="744.2" cy="42.4" r="3.8" fill="none" stroke="#6666f0" stroke-width="1.0"/>
<circle cx="750.1" cy="41.9" r="3.8" fill="none" stroke="#6666f0" stroke-width="1.0"/>
<circle cx="755.9" cy="41.4" r="3.8" fill="none" stroke="#6666f0" stroke-width="1.0"/>
<circle cx="761.7" cy="40.8" r="3.8" fill="none" stroke="#6666f0" stroke-width="1.0"/>
<circle cx="767.6" cy="39.6" r="3.8" fill="none" stroke="#6666f0" stroke-width="1.0"/>
<circle cx="773.4" cy="38.1" r="3.8" fill="none" stroke="#6666f0" stroke-width="1.0"/>
<circle cx="779.2" cy="36.5" r="3.8" fill="none" stroke="#6666f0" stroke-width="1.0"/>
<circle cx="785.1" cy="35.4" r="3.8" fill="none" stroke="#6666f0" stroke-width="1.0"/>
<circle cx="790.9" cy="35.0" r="3.8" fill="none" stroke="#6666f0" stroke-width="1.0"/>
<circle cx="796.7" cy="35.0" r="3.8" fill="none" stroke="#6666f0" stroke-width="1.0"/>
<circle cx="802.6" cy="35.0" r="3.8" fill="none" stroke="#6666f0" stroke-width="1.0"/>
<circle cx="808.4" cy="35.0" r="3.8" fill="none" stroke="#6666f0" stroke-width="1.0"/>
<circle cx="814.2" cy="35.0" r="3.8" fill="none" stroke="#6666f0" stroke-width="1.0"/>
<circle cx="820.1" cy="35.0" r="3.8" fill="none" stroke="#6666f0" stroke-width="1.0"/>
<circle cx="825.9" cy="35.6" r="3.8" fill="none" stroke="#6666f0" stroke-width="1.0"/>
<circle cx="831.7" cy="37.1" r="3.8" fill="none" stroke="#6666f0" stroke-width="1.0"/>
<circle cx="837.6" cy="39.1" r="3.8" fill="none" stroke="#6666f0" stroke-width="1.0"/>
<circle cx="843.4" cy="41.4" r="3.8" fill="none" stroke="#6666f0" stroke-width="1.0"/>
<circle cx="849.2" cy="44.6" r="3.8" fill="none" stroke="#6666f0" stroke-width="1.0"/>
<circle cx="855.1" cy="48.5" r="3.8" fill="none" stroke="#6666f0" stroke-width="1.0"/>
<circle cx="860.9" cy="52.6" r="3.8" fill="none" stroke="#6666f0" stroke-width="1.0"/>
<circle cx="866.7" cy="57.1" r="3.8" fill="none" stroke="#6666f0" stroke-width="1.0"/>
<circle cx="872.6" cy="62.7" r="3.8" fill="none" stroke="#6666f0" stroke-width="1.0"/>
<circle cx="878.4" cy="70.7" r="3.8" fill="none" stroke="#6666f0" stroke-width="1.0"/>
<circle cx="884.2" cy="82.5" r="3.8" fill="none" stroke="#6666f0" stroke-width="1.0"/>
<circle cx="890.1" cy="94.1" r="3.8" fill="none" stroke="#6666f0" stroke-width="1.0"/>
<circle cx="895.9" cy="106.3" r="3.8" fill="none" stroke="#6666f0" stroke-width="1.0"/>
<circle cx="901.7" cy="123.2" r="3.8" fill="none" stroke="#6666f0" stroke-width="1.0"/>
<circle cx="907.6" cy="141.9" r="3.8" fill="none" stroke="#6666f0" stroke-width="1.0"/>
<circle cx="913.4" cy="161.7" r="3.8" fill="none" stroke="#6666f0" stroke-width="1.0"/>
<circle cx="919.2" cy="182.0" r="3.8" fill="none" stroke="#6666f0" stroke-width="1.0"/>
<circle cx="925.1" cy="203.0" r="3.8" fill="none" stroke="#6666f0" stroke-width="1.0"/>
<circle cx="930.9" cy="224.2" r="3.8" fill="none" stroke="#6666f0" stroke-width="1.0"/>
<circle cx="936.7" cy="243.3" r="3.8" fill="none" stroke="#6666f0" stroke-width="1.0"/>
<circle cx="942.6" cy="255.4" r="3.8" fill="none" stroke="#6666f0" stroke-width="1.0"/>
<circle cx="948.4" cy="265.8" r="3.8" fill="none" stroke="#6666f0" stroke-width="1.0"/>
<circle cx="954.2" cy="276.1" r="3.8" fill="none" stroke="#6666f0" stroke-width="1.0"/>
<circle cx="960.1" cy="286.7" r="3.8" fill="none" stroke="#6666f0" stroke-width="1.0"/>
<circle cx="965.9" cy="296.3" r="3.8" fill="none" stroke="#6666f0" stroke-width="1.0"/>
<circle cx="971.7" cy="304.9" r="3.8" fill="none" stroke="#6666f0" stroke-width="1.0"/>
<circle cx="977.6" cy="311.8" r="3.8" fill="none" stroke="#6666f0" stroke-width="1.0"/>
<circle cx="983.4" cy="317.3" r="3.8" fill="none" stroke="#6666f0" stroke-width="1.0"/>
<circle cx="989.2" cy="322.2" r="3.8" fill="none" stroke="#6666f0" stroke-width="1.0"/>
<circle cx="995.1" cy="326.6" r="3.8" fill="none" stroke="#6666f0" stroke-width="1.0"/>
<circle cx="1000.9" cy="330.6" r="3.8" fill="none" stroke="#6666f0" stroke-width="1.0"/>
<circle cx="1006.7" cy="334.4" r="3.8" fill="none" stroke="#6666f0" stroke-width="1.0"/>
<circle cx="1012.6" cy="337.9" r="3.8" fill="none" stroke="#6666f0" stroke-width="1.0"/>
<circle cx="1018.4" cy="341.2" r="3.8" fill="none" stroke="#6666f0" stroke-width="1.0"/>
<circle cx="1024.2" cy="344.1" r="3.8" fill="none" stroke="#6666f0" stroke-width="1.0"/>
<circle cx="1030.1" cy="346.7" r="3.8" fill="none" stroke="#6666f0" stroke-width="1.0"/>
<circle cx="1035.9" cy="349.0" r="3.8" fill="none" stroke="#6666f0" stroke-width="1.0"/>
<circle cx="1041.7" cy="351.0" r="3.8" fill="none" stroke="#6666f0" stroke-width="1.0"/>
<circle cx="1047.6" cy="352.9" r="3.8" fill="none" stroke="#6666f0" stroke-width="1.0"/>
<circle cx="1053.4" cy="354.1" r="3.8" fill="none" stroke="#6666f0" stroke-width="1.0"/>
<circle cx="1059.2" cy="354.8" r="3.8" fill="none" stroke="#6666f0" stroke-width="1.0"/>
<circle cx="1065.1" cy="355.3" r="3.8" fill="none" stroke="#6666f0" stroke-width="1.0"/>
<circle cx="1070.9" cy="355.5" r="3.8" fill="none" stroke="#6666f0" stroke-width="1.0"/>
<circle cx="1076.7" cy="355.5" r="3.8" fill="none" stroke="#6666f0" stroke-width="1.0"/>
<circle cx="1082.6" cy="355.5" r="3.8" fill="none" stroke="#6666f0" stroke-width="1.0"/>
<circle cx="1088.4" cy="355.5" r="3.8" fill="none" stroke="#6666f0" stroke-width="1.0"/>
<circle cx="1094.2" cy="355.4" r="3.8" fill="none" stroke="#6666f0" stroke-width="1.0"/>
<circle cx="1100.1" cy="355.1" r="3.8" fill="none" stroke="#6666f0" stroke-width="1.0"/>
<circle cx="1105.9" cy="354.7" r="3.8" fill="none" stroke="#6666f0" stroke-width="1.0"/>
<circle cx="1111.7" cy="354.3" r="3.8" fill="none" stroke="#6666f0" stroke-width="1.0"/>
<circle cx="1117.6" cy="354.0" r="3.8" fill="none" stroke="#6666f0" stroke-width="1.0"/>
<circle cx="1123.4" cy="354.0" r="3.8" fill="none" stroke="#6666f0" stroke-width="1.0"/>
<circle cx="1129.2" cy="354.3" r="3.8" fill="none" stroke="#6666f0" stroke-width="1.0"/>
<circle cx="1135.1" cy="354.6" r="3.8" fill="none" stroke="#6666f0" stroke-width="1.0"/>
<circle cx="1140.9" cy="355.1" r="3.8" fill="none" stroke="#6666f0" stroke-width="1.0"/>
<circle cx="1146.7" cy="355.7" r="3.8" fill="none" stroke="#6666f0" stroke-width="1.0"/>
<circle cx="1152.6" cy="356.3" r="3.8" fill="none" stroke="#6666f0" stroke-width="1.0"/>
<circle cx="1158.4" cy="357.1" r="3.8" fill="none" stroke="#6666f0" stroke-width="1.0"/>
<circle cx="1164.2" cy="358.0" r="3.8" fill="none" stroke="#6666f0" stroke-width="1.0"/>
<circle cx="1170.1" cy="359.2" r="3.8" fill="none" stroke="#6666f0" stroke-width="1.0"/>
<circle cx="1175.9" cy="360.5" r="3.8" fill="none" stroke="#6666f0" stroke-width="1.0"/>
<circle cx="1181.7" cy="362.0" r="3.8" fill="none" stroke="#6666f0" stroke-width="1.0"/>
<circle cx="1187.6" cy="364.0" r="3.8" fill="none" stroke="#6666f0" stroke-width="1.0"/>
<circle cx="1193.4" cy="366.4" r="3.8" fill="none" stroke="#6666f0" stroke-width="1.0"/>
<circle cx="1199.2" cy="368.7" r="3.8" fill="none" stroke="#6666f0" stroke-width="1.0"/>
<circle cx="1205.1" cy="370.8" r="3.8" fill="none" stroke="#6666f0" stroke-width="1.0"/>
<circle cx="1210.9" cy="372.9" r="3.8" fill="none" stroke="#6666f0" stroke-width="1.0"/>
<polyline points="721.0,66.5 723.0,68.8 725.0,71.2 727.0,73.5 729.0,75.8 731.0,78.1 733.0,80.5 735.0,82.8 737.0,85.1 739.0,87.5 741.0,89.8 743.0,92.2 745.0,94.5 747.0,96.8 749.0,99.2 751.0,101.5 753.0,103.9 755.0,106.2 757.0,108.6 759.0,110.9 761.0,113.3 763.0,115.6 765.0,118.0 767.0,120.4 769.0,122.7 771.0,125.1 773.0,127.4 775.0,129.8 777.0,132.2 779.0,134.5 781.0,136.9 783.0,139.3 785.0,141.6 787.0,144.0 789.0,146.3 791.0,148.7 793.0,151.0 795.0,153.4 797.0,155.7 799.0,158.1 801.0,160.4 803.0,162.7 805.0,165.1 807.0,167.4 809.0,169.7 811.0,172.0 813.0,174.3 815.0,176.6 817.0,178.9 819.0,181.1 821.0,183.4 823.0,185.6 825.0,187.9 827.0,190.1 829.0,192.4 831.0,194.7 833.0,196.9 835.0,199.2 837.0,201.5 839.0,203.8 841.0,206.2 843.0,208.6 845.0,211.0 847.0,213.5 849.0,216.0 851.0,218.5 853.0,221.1 855.0,223.6 857.0,226.1 859.0,228.6 861.0,231.0 863.0,233.3 865.0,235.6 867.0,237.9 869.0,240.0 871.0,242.0 873.0,244.0 875.0,245.9 877.0,247.7 879.0,249.5 881.0,251.3 883.0,253.0 885.0,254.6 887.0,256.2 889.0,257.8 891.0,259.2 893.0,260.7 895.0,262.1 897.0,263.4 899.0,264.7 901.0,266.0 903.0,267.3 905.0,268.7 907.0,270.0 909.0,271.4 911.0,272.8 913.0,274.2 915.0,275.6 917.0,277.0 919.0,278.4 921.0,279.8 923.0,281.1 925.0,282.3 927.0,283.5 929.0,284.5 931.0,285.6 933.0,286.6 935.0,287.7 937.0,288.6 939.0,289.5 941.0,290.4 943.0,291.2 945.0,291.9 947.0,292.5 949.0,293.0 951.0,293.5 953.0,294.0 955.0,294.5 957.0,294.9 959.0,295.3 961.0,295.7 963.0,296.0 965.0,296.3 967.0,296.6 969.0,296.9 971.0,297.1 973.0,297.3 975.0,297.6 977.0,297.8 979.0,298.0 981.0,298.2 983.0,298.4 985.0,298.5 987.0,298.7 989.0,298.9 991.0,299.0 993.0,299.1 995.0,299.3 997.0,299.4 999.0,299.5 1001.0,299.5 1003.0,299.6 1005.0,299.7 1007.0,299.8 1009.0,299.8 1011.0,299.9 1013.0,299.9 1015.0,300.0 1017.0,300.1 1019.0,300.1 1021.0,300.2 1023.0,300.2 1025.0,300.3 1027.0,300.3 1029.0,300.3 1031.0,300.4 1033.0,300.4 1035.0,300.5 1037.0,300.5 1039.0,300.5 1041.0,300.6 1043.0,300.6 1045.0,300.7 1047.0,300.7 1049.0,300.7 1051.0,300.8 1053.0,300.8 1055.0,300.9 1057.0,300.9 1059.0,301.0 1061.0,301.0 1063.0,301.1 1065.0,301.1 1067.0,301.2 1069.0,301.2 1071.0,301.3 1073.0,301.3 1075.0,301.4 1077.0,301.4 1079.0,301.5 1081.0,301.5 1083.0,301.6 1085.0,301.6 1087.0,301.7 1089.0,301.7 1091.0,301.8 1093.0,301.8 1095.0,301.9 1097.0,301.9 1099.0,302.0 1101.0,302.0 1103.0,302.1 1105.0,302.1 1107.0,302.2 1109.0,302.3 1111.0,302.3 1113.0,302.4 1115.0,302.4 1117.0,302.5 1119.0,302.6 1121.0,302.7 1123.0,302.7 1125.0,302.8 1127.0,302.9 1129.0,303.0 1131.0,303.0 1133.0,303.1 1135.0,303.2 1137.0,303.3 1139.0,303.4 1141.0,303.5 1143.0,303.6 1145.0,303.8 1147.0,303.9 1149.0,304.0 1151.0,304.1 1153.0,304.3 1155.0,304.4 1157.0,304.6 1159.0,304.7 1161.0,304.9 1163.0,305.0 1165.0,305.2 1167.0,305.3 1169.0,305.5 1171.0,305.7 1173.0,305.9 1175.0,306.0 1177.0,306.2 1179.0,306.4 1181.0,306.6 1183.0,306.8 1185.0,307.0 1187.0,307.3 1189.0,307.6 1191.0,307.9 1193.0,308.1 1195.0,308.4 1197.0,308.7 1199.0,309.0 1201.0,309.3 1203.0,309.6 1205.0,309.9 1207.0,310.1 1209.0,310.4 1211.0,310.6" fill="none" stroke="#303030" stroke-width="1.3"/>
<polyline points="721.0,57.5 723.0,59.5 725.0,61.6 727.0,63.6 729.0,65.6 731.0,67.7 733.0,69.7 735.0,71.8 737.0,73.9 739.0,76.0 741.0,78.0 743.0,80.1 745.0,82.2 747.0,84.4 749.0,86.5 751.0,88.6 753.0,90.8 755.0,92.9 757.0,95.1 759.0,97.2 761.0,99.4 763.0,101.6 765.0,103.8 767.0,106.0 769.0,108.2 771.0,110.5 773.0,112.8 775.0,115.0 777.0,117.3 779.0,119.6 781.0,121.9 783.0,124.2 785.0,126.5 787.0,128.9 789.0,131.2 791.0,133.5 793.0,135.9 795.0,138.2 797.0,140.6 799.0,142.9 801.0,145.3 803.0,147.6 805.0,149.9 807.0,152.3 809.0,154.6 811.0,157.0 813.0,159.3 815.0,161.7 817.0,164.0 819.0,166.3 821.0,168.6 823.0,170.9 825.0,173.2 827.0,175.5 829.0,177.8 831.0,180.1 833.0,182.3 835.0,184.6 837.0,186.9 839.0,189.1 841.0,191.4 843.0,193.7 845.0,195.9 847.0,198.1 849.0,200.4 851.0,202.6 853.0,204.9 855.0,207.1 857.0,209.4 859.0,211.7 861.0,213.9 863.0,216.1 865.0,218.3 867.0,220.4 869.0,222.5 871.0,224.5 873.0,226.5 875.0,228.4 877.0,230.3 879.0,232.1 881.0,234.0 883.0,235.8 885.0,237.6 887.0,239.3 889.0,241.1 891.0,242.9 893.0,244.7 895.0,246.5 897.0,248.2 899.0,250.0 901.0,251.7 903.0,253.4 905.0,255.1 907.0,256.7 909.0,258.3 911.0,259.7 913.0,261.2 915.0,262.5 917.0,263.9 919.0,265.2 921.0,266.5 923.0,267.7 925.0,269.0 927.0,270.2 929.0,271.4 931.0,272.6 933.0,273.8 935.0,275.1 937.0,276.3 939.0,277.5 941.0,278.7 943.0,279.8 945.0,280.8 947.0,281.8 949.0,282.6 951.0,283.4 953.0,284.1 955.0,284.7 957.0,285.4 959.0,286.0 961.0,286.5 963.0,287.0 965.0,287.5 967.0,287.9 969.0,288.3 971.0,288.7 973.0,289.0 975.0,289.3 977.0,289.6 979.0,289.9 981.0,290.1 983.0,290.4 985.0,290.6 987.0,290.9 989.0,291.1 991.0,291.3 993.0,291.5 995.0,291.6 997.0,291.8 999.0,291.9 1001.0,292.1 1003.0,292.2 1005.0,292.3 1007.0,292.4 1009.0,292.5 1011.0,292.6 1013.0,292.7 1015.0,292.8 1017.0,292.9 1019.0,293.0 1021.0,293.1 1023.0,293.2 1025.0,293.3 1027.0,293.4 1029.0,293.4 1031.0,293.5 1033.0,293.6 1035.0,293.7 1037.0,293.7 1039.0,293.8 1041.0,293.9 1043.0,293.9 1045.0,294.0 1047.0,294.1 1049.0,294.1 1051.0,294.2 1053.0,294.3 1055.0,294.3 1057.0,294.4 1059.0,294.5 1061.0,294.5 1063.0,294.6 1065.0,294.7 1067.0,294.7 1069.0,294.8 1071.0,294.8 1073.0,294.9 1075.0,294.9 1077.0,295.0 1079.0,295.0 1081.0,295.1 1083.0,295.1 1085.0,295.2 1087.0,295.2 1089.0,295.3 1091.0,295.3 1093.0,295.4 1095.0,295.4 1097.0,295.5 1099.0,295.5 1101.0,295.6 1103.0,295.6 1105.0,295.7 1107.0,295.7 1109.0,295.8 1111.0,295.8 1113.0,295.9 1115.0,296.0 1117.0,296.0 1119.0,296.1 1121.0,296.2 1123.0,296.2 1125.0,296.3 1127.0,296.4 1129.0,296.5 1131.0,296.5 1133.0,296.6 1135.0,296.7 1137.0,296.8 1139.0,296.9 1141.0,297.0 1143.0,297.1 1145.0,297.2 1147.0,297.3 1149.0,297.5 1151.0,297.6 1153.0,297.7 1155.0,297.9 1157.0,298.0 1159.0,298.1 1161.0,298.3 1163.0,298.4 1165.0,298.6 1167.0,298.8 1169.0,298.9 1171.0,299.1 1173.0,299.3 1175.0,299.5 1177.0,299.7 1179.0,299.9 1181.0,300.1 1183.0,300.4 1185.0,300.6 1187.0,300.9 1189.0,301.3 1191.0,301.6 1193.0,302.0 1195.0,302.4 1197.0,302.8 1199.0,303.2 1201.0,303.6 1203.0,303.9 1205.0,304.3 1207.0,304.7 1209.0,305.1 1211.0,305.4" fill="none" stroke="#303030" stroke-width="1.3"/>
<polyline points="721.0,50.7 723.0,52.0 725.0,53.4 727.0,54.9 729.0,56.6 731.0,58.4 733.0,60.4 735.0,62.5 737.0,64.7 739.0,67.0 741.0,69.4 743.0,71.8 745.0,74.3 747.0,76.8 749.0,79.4 751.0,81.9 753.0,84.5 755.0,87.0 757.0,89.5 759.0,91.9 761.0,94.3 763.0,96.7 765.0,99.0 767.0,101.3 769.0,103.6 771.0,105.9 773.0,108.3 775.0,110.6 777.0,112.9 779.0,115.3 781.0,117.6 783.0,119.9 785.0,122.3 787.0,124.6 789.0,126.9 791.0,129.3 793.0,131.6 795.0,134.0 797.0,136.3 799.0,138.6 801.0,140.9 803.0,143.3 805.0,145.6 807.0,147.9 809.0,150.3 811.0,152.6 813.0,154.9 815.0,157.2 817.0,159.5 819.0,161.8 821.0,164.1 823.0,166.4 825.0,168.7 827.0,171.0 829.0,173.3 831.0,175.6 833.0,177.9 835.0,180.2 837.0,182.5 839.0,184.7 841.0,187.0 843.0,189.3 845.0,191.5 847.0,193.7 849.0,195.9 851.0,198.1 853.0,200.2 855.0,202.4 857.0,204.5 859.0,206.6 861.0,208.7 863.0,210.8 865.0,212.9 867.0,214.9 869.0,217.0 871.0,219.0 873.0,221.1 875.0,223.1 877.0,225.2 879.0,227.2 881.0,229.2 883.0,231.1 885.0,233.0 887.0,234.9 889.0,236.7 891.0,238.5 893.0,240.2 895.0,241.9 897.0,243.5 899.0,245.0 901.0,246.6 903.0,248.0 905.0,249.5 907.0,250.8 909.0,252.0 911.0,253.0 913.0,254.0 915.0,255.0 917.0,255.9 919.0,256.7 921.0,257.4 923.0,258.0 925.0,258.5 927.0,258.9 929.0,259.4 931.0,259.8 933.0,260.2 935.0,260.5 937.0,260.8 939.0,261.1 941.0,261.4 943.0,261.7 945.0,261.9 947.0,262.2 949.0,262.4 951.0,262.6 953.0,262.8 955.0,263.0 957.0,263.2 959.0,263.3 961.0,263.5 963.0,263.6 965.0,263.8 967.0,263.9 969.0,264.1 971.0,264.2 973.0,264.3 975.0,264.4 977.0,264.5 979.0,264.6 981.0,264.7 983.0,264.8 985.0,264.9 987.0,265.0 989.0,265.0 991.0,265.1 993.0,265.2 995.0,265.3 997.0,265.4 999.0,265.4 1001.0,265.5 1003.0,265.6 1005.0,265.7 1007.0,265.7 1009.0,265.8 1011.0,265.8 1013.0,265.9 1015.0,266.0 1017.0,266.0 1019.0,266.1 1021.0,266.2 1023.0,266.2 1025.0,266.3 1027.0,266.3 1029.0,266.4 1031.0,266.4 1033.0,266.5 1035.0,266.6 1037.0,266.6 1039.0,266.7 1041.0,266.7 1043.0,266.8 1045.0,266.8 1047.0,266.9 1049.0,266.9 1051.0,267.0 1053.0,267.0 1055.0,267.0 1057.0,267.1 1059.0,267.1 1061.0,267.1 1063.0,267.2 1065.0,267.2 1067.0,267.3 1069.0,267.3 1071.0,267.3 1073.0,267.4 1075.0,267.4 1077.0,267.5 1079.0,267.5 1081.0,267.6 1083.0,267.7 1085.0,267.7 1087.0,267.8 1089.0,267.9 1091.0,268.0 1093.0,268.1 1095.0,268.3 1097.0,268.5 1099.0,268.7 1101.0,268.9 1103.0,269.1 1105.0,269.4 1107.0,269.7 1109.0,270.0 1111.0,270.3 1113.0,270.6 1115.0,270.9 1117.0,271.3 1119.0,271.6 1121.0,272.0 1123.0,272.3 1125.0,272.7 1127.0,273.1 1129.0,273.5 1131.0,273.9 1133.0,274.4 1135.0,274.9 1137.0,275.4 1139.0,276.0 1141.0,276.5 1143.0,277.0 1145.0,277.6 1147.0,278.1 1149.0,278.6 1151.0,279.1 1153.0,279.6 1155.0,280.1 1157.0,280.6 1159.0,281.1 1161.0,281.6 1163.0,282.1 1165.0,282.6 1167.0,283.1 1169.0,283.6 1171.0,284.1 1173.0,284.6 1175.0,285.1 1177.0,285.6 1179.0,286.1 1181.0,286.6 1183.0,287.1 1185.0,287.6 1187.0,288.2 1189.0,288.9 1191.0,289.7 1193.0,290.6 1195.0,291.8 1197.0,293.3 1199.0,294.9 1201.0,296.6 1203.0,298.3 1205.0,299.9 1207.0,301.4 1209.0,302.7 1211.0,304.1" fill="none" stroke="#303030" stroke-width="1.3"/>
<polyline points="721.0,30.0 723.0,30.0 725.0,30.0 727.0,30.0 729.0,30.0 731.0,30.0 733.0,30.0 735.0,30.0 737.0,30.0 739.0,30.0 741.0,30.0 743.0,30.0 745.0,30.0 747.0,30.0 749.0,30.0 751.0,30.0 753.0,30.0 755.0,30.0 757.0,30.0 759.0,30.0 761.0,30.0 763.0,30.0 765.0,30.0 767.0,30.1 769.0,30.1 771.0,30.2 773.0,30.2 775.0,30.3 777.0,30.4 779.0,30.5 781.0,30.6 783.0,30.7 785.0,30.8 787.0,31.0 789.0,31.1 791.0,31.3 793.0,31.4 795.0,31.6 797.0,31.7 799.0,31.9 801.0,32.1 803.0,32.4 805.0,32.7 807.0,33.1 809.0,33.6 811.0,34.1 813.0,34.7 815.0,35.3 817.0,35.8 819.0,36.4 821.0,37.0 823.0,37.6 825.0,38.1 827.0,38.7 829.0,39.2 831.0,39.8 833.0,40.4 835.0,41.0 837.0,41.7 839.0,42.4 841.0,43.1 843.0,43.9 845.0,44.8 847.0,45.7 849.0,46.8 851.0,47.9 853.0,49.3 855.0,51.0 857.0,52.9 859.0,55.0 861.0,57.3 863.0,59.6 865.0,62.0 867.0,64.5 869.0,67.3 871.0,70.4 873.0,73.5 875.0,76.8 877.0,80.1 879.0,83.4 881.0,86.6 883.0,89.8 885.0,93.1 887.0,96.4 889.0,99.8 891.0,103.3 893.0,107.0 895.0,110.8 897.0,114.8 899.0,118.9 901.0,123.2 903.0,127.7 905.0,132.4 907.0,137.3 909.0,142.4 911.0,147.7 913.0,153.2 915.0,158.7 917.0,164.2 919.0,169.6 921.0,175.0 923.0,180.2 925.0,185.3 927.0,190.4 929.0,195.5 931.0,200.6 933.0,205.9 935.0,211.3 937.0,217.0 939.0,223.2 941.0,230.1 943.0,237.0 945.0,242.8 947.0,248.4 949.0,253.8 951.0,258.9 953.0,263.9 955.0,268.6 957.0,273.1 959.0,277.3 961.0,281.3 963.0,285.0 965.0,288.5 967.0,292.0 969.0,295.2 971.0,298.4 973.0,301.4 975.0,304.2 977.0,306.9 979.0,309.4 981.0,311.8 983.0,314.0 985.0,316.0 987.0,317.9 989.0,319.8 991.0,321.5 993.0,323.1 995.0,324.7 997.0,326.2 999.0,327.7 1001.0,329.1 1003.0,330.4 1005.0,331.7 1007.0,333.0 1009.0,334.2 1011.0,335.4 1013.0,336.6 1015.0,337.7 1017.0,338.7 1019.0,339.7 1021.0,340.5 1023.0,341.3 1025.0,342.1 1027.0,342.9 1029.0,343.7 1031.0,344.4 1033.0,345.1 1035.0,345.9 1037.0,346.5 1039.0,347.1 1041.0,347.7 1043.0,348.2 1045.0,348.7 1047.0,349.1 1049.0,349.4 1051.0,349.7 1053.0,349.9 1055.0,350.1 1057.0,350.2 1059.0,350.4 1061.0,350.5 1063.0,350.7 1065.0,350.8 1067.0,350.9 1069.0,351.0 1071.0,351.1 1073.0,351.2 1075.0,351.3 1077.0,351.3 1079.0,351.4 1081.0,351.4 1083.0,351.4 1085.0,351.4 1087.0,351.4 1089.0,351.3 1091.0,351.3 1093.0,351.2 1095.0,351.2 1097.0,351.1 1099.0,351.0 1101.0,351.0 1103.0,350.9 1105.0,350.8 1107.0,350.7 1109.0,350.6 1111.0,350.6 1113.0,350.5 1115.0,350.4 1117.0,350.3 1119.0,350.2 1121.0,350.0 1123.0,349.9 1125.0,349.8 1127.0,349.6 1129.0,349.5 1131.0,349.4 1133.0,349.2 1135.0,349.1 1137.0,348.9 1139.0,348.8 1141.0,348.6 1143.0,348.5 1145.0,348.4 1147.0,348.2 1149.0,348.1 1151.0,348.0 1153.0,347.9 1155.0,347.7 1157.0,347.6 1159.0,347.5 1161.0,347.5 1163.0,347.4 1165.0,347.3 1167.0,347.2 1169.0,347.1 1171.0,347.0 1173.0,346.9 1175.0,346.8 1177.0,346.7 1179.0,346.7 1181.0,346.6 1183.0,346.5 1185.0,346.4 1187.0,346.4 1189.0,346.3 1191.0,346.2 1193.0,346.2 1195.0,346.1 1197.0,346.1 1199.0,346.1 1201.0,346.0 1203.0,346.0 1205.0,346.0 1207.0,346.0 1209.0,346.0 1211.0,346.0" fill="none" stroke="#303030" stroke-width="1.3"/>
<polyline points="721.0,33.9 723.0,33.9 725.0,33.8 727.0,33.8 729.0,33.8 731.0,33.7 733.0,33.7 735.0,33.7 737.0,33.6 739.0,33.6 741.0,33.6 743.0,33.6 745.0,33.6 747.0,33.5 749.0,33.5 751.0,33.5 753.0,33.5 755.0,33.5 757.0,33.5 759.0,33.5 761.0,33.5 763.0,33.5 765.0,33.5 767.0,33.5 769.0,33.5 771.0,33.5 773.0,33.6 775.0,33.6 777.0,33.6 779.0,33.6 781.0,33.6 783.0,33.7 785.0,33.7 787.0,33.7 789.0,33.8 791.0,33.8 793.0,33.8 795.0,33.9 797.0,33.9 799.0,34.0 801.0,34.0 803.0,34.1 805.0,34.2 807.0,34.4 809.0,34.6 811.0,34.8 813.0,35.1 815.0,35.3 817.0,35.6 819.0,36.0 821.0,36.3 823.0,36.7 825.0,37.0 827.0,37.4 829.0,37.8 831.0,38.2 833.0,38.7 835.0,39.2 837.0,39.8 839.0,40.5 841.0,41.2 843.0,42.0 845.0,42.8 847.0,43.6 849.0,44.5 851.0,45.5 853.0,46.6 855.0,47.8 857.0,49.1 859.0,50.5 861.0,51.9 863.0,53.5 865.0,55.0 867.0,56.5 869.0,58.0 871.0,59.7 873.0,61.5 875.0,63.7 877.0,66.5 879.0,70.3 881.0,75.1 883.0,80.6 885.0,86.3 887.0,92.2 889.0,97.9 891.0,104.0 893.0,110.5 895.0,117.1 897.0,123.6 899.0,130.0 901.0,136.1 903.0,142.1 905.0,148.0 907.0,154.0 909.0,159.9 911.0,165.8 913.0,171.9 915.0,178.1 917.0,184.5 919.0,191.0 921.0,197.5 923.0,204.1 925.0,210.5 927.0,216.9 929.0,223.1 931.0,229.1 933.0,235.1 935.0,240.9 937.0,246.7 939.0,252.5 941.0,258.3 943.0,264.0 945.0,269.6 947.0,274.8 949.0,279.8 951.0,284.3 953.0,288.6 955.0,292.7 957.0,296.8 959.0,300.7 961.0,304.4 963.0,307.8 965.0,311.0 967.0,313.9 969.0,316.3 971.0,318.5 973.0,320.5 975.0,322.4 977.0,324.2 979.0,325.8 981.0,327.4 983.0,328.9 985.0,330.4 987.0,331.7 989.0,333.0 991.0,334.2 993.0,335.4 995.0,336.6 997.0,337.7 999.0,338.8 1001.0,339.8 1003.0,340.9 1005.0,341.9 1007.0,342.8 1009.0,343.7 1011.0,344.6 1013.0,345.4 1015.0,346.2 1017.0,346.9 1019.0,347.6 1021.0,348.2 1023.0,348.8 1025.0,349.3 1027.0,349.9 1029.0,350.4 1031.0,350.9 1033.0,351.4 1035.0,351.9 1037.0,352.4 1039.0,352.8 1041.0,353.2 1043.0,353.5 1045.0,353.8 1047.0,354.1 1049.0,354.3 1051.0,354.4 1053.0,354.5 1055.0,354.6 1057.0,354.7 1059.0,354.8 1061.0,354.9 1063.0,354.9 1065.0,355.0 1067.0,355.1 1069.0,355.1 1071.0,355.2 1073.0,355.2 1075.0,355.2 1077.0,355.3 1079.0,355.3 1081.0,355.3 1083.0,355.3 1085.0,355.3 1087.0,355.3 1089.0,355.3 1091.0,355.2 1093.0,355.2 1095.0,355.2 1097.0,355.1 1099.0,355.1 1101.0,355.1 1103.0,355.1 1105.0,355.0 1107.0,355.0 1109.0,355.0 1111.0,355.0 1113.0,355.1 1115.0,355.2 1117.0,355.5 1119.0,355.7 1121.0,356.0 1123.0,356.2 1125.0,356.5 1127.0,356.7 1129.0,356.9 1131.0,357.1 1133.0,357.2 1135.0,357.3 1137.0,357.4 1139.0,357.5 1141.0,357.7 1143.0,357.8 1145.0,357.9 1147.0,357.9 1149.0,358.0 1151.0,358.1 1153.0,358.2 1155.0,358.3 1157.0,358.4 1159.0,358.5 1161.0,358.6 1163.0,358.7 1165.0,358.8 1167.0,358.8 1169.0,358.9 1171.0,359.1 1173.0,359.2 1175.0,359.3 1177.0,359.4 1179.0,359.5 1181.0,359.6 1183.0,359.7 1185.0,359.8 1187.0,359.9 1189.0,360.0 1191.0,360.1 1193.0,360.2 1195.0,360.4 1197.0,360.5 1199.0,360.6 1201.0,360.7 1203.0,360.8 1205.0,360.9 1207.0,361.1 1209.0,361.2 1211.0,361.3" fill="none" stroke="#303030" stroke-width="1.3"/>
<polyline points="721.0,36.0 723.0,36.0 725.0,36.0 727.0,36.0 729.0,36.0 731.0,36.1 733.0,36.1 735.0,36.1 737.0,36.1 739.0,36.2 741.0,36.2 743.0,36.2 745.0,36.2 747.0,36.3 749.0,36.3 751.0,36.3 753.0,36.4 755.0,36.4 757.0,36.4 759.0,36.5 761.0,36.5 763.0,36.6 765.0,36.6 767.0,36.6 769.0,36.7 771.0,36.7 773.0,36.8 775.0,36.8 777.0,36.9 779.0,37.0 781.0,37.0 783.0,37.1 785.0,37.2 787.0,37.3 789.0,37.4 791.0,37.5 793.0,37.6 795.0,37.7 797.0,37.8 799.0,37.9 801.0,38.1 803.0,38.3 805.0,38.5 807.0,38.8 809.0,39.1 811.0,39.5 813.0,40.0 815.0,40.4 817.0,40.9 819.0,41.5 821.0,42.1 823.0,42.7 825.0,43.3 827.0,44.0 829.0,44.6 831.0,45.4 833.0,46.2 835.0,47.2 837.0,48.2 839.0,49.4 841.0,50.8 843.0,52.2 845.0,53.7 847.0,55.4 849.0,57.1 851.0,59.0 853.0,61.3 855.0,63.9 857.0,66.9 859.0,70.0 861.0,73.3 863.0,76.7 865.0,80.4 867.0,84.3 869.0,88.5 871.0,92.8 873.0,97.3 875.0,102.0 877.0,107.0 879.0,112.3 881.0,117.9 883.0,123.9 885.0,130.3 887.0,136.8 889.0,143.2 891.0,149.7 893.0,156.3 895.0,163.0 897.0,170.0 899.0,177.2 901.0,184.5 903.0,191.5 905.0,198.5 907.0,205.3 909.0,212.0 911.0,218.5 913.0,224.9 915.0,231.1 917.0,236.9 919.0,242.4 921.0,247.8 923.0,253.0 925.0,258.0 927.0,262.9 929.0,267.8 931.0,272.5 933.0,276.9 935.0,281.0 937.0,284.9 939.0,288.6 941.0,292.1 943.0,295.5 945.0,298.7 947.0,301.6 949.0,304.3 951.0,306.9 953.0,309.4 955.0,311.7 957.0,313.9 959.0,316.1 961.0,318.1 963.0,320.0 965.0,321.9 967.0,323.7 969.0,325.5 971.0,327.2 973.0,328.9 975.0,330.4 977.0,332.0 979.0,333.4 981.0,334.7 983.0,336.0 985.0,337.2 987.0,338.4 989.0,339.5 991.0,340.7 993.0,341.8 995.0,342.8 997.0,343.8 999.0,344.7 1001.0,345.6 1003.0,346.4 1005.0,347.1 1007.0,347.7 1009.0,348.3 1011.0,348.8 1013.0,349.3 1015.0,349.9 1017.0,350.4 1019.0,350.9 1021.0,351.3 1023.0,351.7 1025.0,352.1 1027.0,352.4 1029.0,352.6 1031.0,352.8 1033.0,353.0 1035.0,353.0 1037.0,353.0 1039.0,352.9 1041.0,352.8 1043.0,352.6 1045.0,352.4 1047.0,352.1 1049.0,351.9 1051.0,351.6 1053.0,351.2 1055.0,350.9 1057.0,350.5 1059.0,350.2 1061.0,349.8 1063.0,349.3 1065.0,348.8 1067.0,348.1 1069.0,347.4 1071.0,346.6 1073.0,345.8 1075.0,344.9 1077.0,344.0 1079.0,343.0 1081.0,342.0 1083.0,341.0 1085.0,340.0 1087.0,339.0 1089.0,337.8 1091.0,336.6 1093.0,335.3 1095.0,334.0 1097.0,332.6 1099.0,331.2 1101.0,329.8 1103.0,328.3 1105.0,326.8 1107.0,325.3 1109.0,323.8 1111.0,322.2 1113.0,320.6 1115.0,319.0 1117.0,317.3 1119.0,315.6 1121.0,313.9 1123.0,312.1 1125.0,310.3 1127.0,308.6 1129.0,306.9 1131.0,305.1 1133.0,303.3 1135.0,301.5 1137.0,299.6 1139.0,297.7 1141.0,295.9 1143.0,294.1 1145.0,292.5 1147.0,290.9 1149.0,289.6 1151.0,288.4 1153.0,287.3 1155.0,286.1 1157.0,284.9 1159.0,283.8 1161.0,282.9 1163.0,282.0 1165.0,281.3 1167.0,280.8 1169.0,280.5 1171.0,280.5 1173.0,280.7 1175.0,281.0 1177.0,281.4 1179.0,281.9 1181.0,282.5 1183.0,283.2 1185.0,283.9 1187.0,284.7 1189.0,285.6 1191.0,286.5 1193.0,287.8 1195.0,289.5 1197.0,291.5 1199.0,293.6 1201.0,295.9 1203.0,298.0 1205.0,300.1 1207.0,301.9 1209.0,303.7 1211.0,305.4" fill="none" stroke="#303030" stroke-width="1.3"/>
<path d="M723.7 48.7h6.0v6.0h-6.0zM729.6 54.0h6.0v6.0h-6.0zM735.4 60.3h6.0v6.0h-6.0zM741.2 67.3h6.0v6.0h-6.0zM747.1 74.7h6.0v6.0h-6.0zM752.9 82.1h6.0v6.0h-6.0zM758.7 89.2h6.0v6.0h-6.0zM764.6 96.0h6.0v6.0h-6.0zM770.4 102.7h6.0v6.0h-6.0zM776.2 109.5h6.0v6.0h-6.0zM782.1 116.4h6.0v6.0h-6.0zM787.9 123.2h6.0v6.0h-6.0zM793.7 130.0h6.0v6.0h-6.0zM799.6 136.8h6.0v6.0h-6.0zM805.4 143.6h6.0v6.0h-6.0zM811.2 150.3h6.0v6.0h-6.0zM817.1 157.0h6.0v6.0h-6.0zM822.9 163.7h6.0v6.0h-6.0zM828.7 170.4h6.0v6.0h-6.0zM834.6 177.1h6.0v6.0h-6.0zM840.4 183.7h6.0v6.0h-6.0zM846.2 190.2h6.0v6.0h-6.0zM852.1 196.5h6.0v6.0h-6.0zM857.9 202.6h6.0v6.0h-6.0zM863.7 208.6h6.0v6.0h-6.0zM869.6 214.6h6.0v6.0h-6.0zM875.4 220.6h6.0v6.0h-6.0zM881.2 226.3h6.0v6.0h-6.0zM887.1 231.7h6.0v6.0h-6.0zM892.9 236.6h6.0v6.0h-6.0zM898.7 241.1h6.0v6.0h-6.0zM904.6 245.1h6.0v6.0h-6.0zM910.4 248.2h6.0v6.0h-6.0zM916.2 250.8h6.0v6.0h-6.0zM922.1 252.5h6.0v6.0h-6.0zM927.9 253.8h6.0v6.0h-6.0zM933.7 254.8h6.0v6.0h-6.0zM939.6 255.6h6.0v6.0h-6.0zM945.4 256.3h6.0v6.0h-6.0zM951.2 256.9h6.0v6.0h-6.0zM957.1 257.4h6.0v6.0h-6.0zM962.9 257.8h6.0v6.0h-6.0zM968.7 258.2h6.0v6.0h-6.0zM974.6 258.5h6.0v6.0h-6.0zM980.4 258.8h6.0v6.0h-6.0zM986.2 259.1h6.0v6.0h-6.0zM992.1 259.3h6.0v6.0h-6.0zM997.9 259.5h6.0v6.0h-6.0zM1003.7 259.7h6.0v6.0h-6.0zM1009.6 259.9h6.0v6.0h-6.0zM1015.4 260.1h6.0v6.0h-6.0zM1021.2 260.2h6.0v6.0h-6.0zM1027.1 260.4h6.0v6.0h-6.0zM1032.9 260.6h6.0v6.0h-6.0zM1038.7 260.7h6.0v6.0h-6.0zM1044.6 260.9h6.0v6.0h-6.0zM1050.4 261.0h6.0v6.0h-6.0zM1056.2 261.1h6.0v6.0h-6.0zM1062.1 261.2h6.0v6.0h-6.0zM1067.9 261.3h6.0v6.0h-6.0zM1073.7 261.5h6.0v6.0h-6.0zM1079.6 261.7h6.0v6.0h-6.0zM1085.4 261.9h6.0v6.0h-6.0zM1091.2 262.2h6.0v6.0h-6.0zM1097.1 262.8h6.0v6.0h-6.0zM1102.9 263.5h6.0v6.0h-6.0zM1108.7 264.4h6.0v6.0h-6.0zM1114.6 265.4h6.0v6.0h-6.0zM1120.4 266.4h6.0v6.0h-6.0zM1126.2 267.5h6.0v6.0h-6.0zM1132.1 268.9h6.0v6.0h-6.0zM1137.9 270.5h6.0v6.0h-6.0zM1143.7 272.1h6.0v6.0h-6.0zM1149.6 273.5h6.0v6.0h-6.0zM1155.4 275.0h6.0v6.0h-6.0zM1161.2 276.4h6.0v6.0h-6.0zM1167.1 277.8h6.0v6.0h-6.0zM1172.9 279.4h6.0v6.0h-6.0zM1178.7 280.8h6.0v6.0h-6.0zM1184.6 282.4h6.0v6.0h-6.0zM1190.4 284.8h6.0v6.0h-6.0zM1196.2 289.1h6.0v6.0h-6.0zM1202.1 294.0h6.0v6.0h-6.0zM1207.9 298.0h6.0v6.0h-6.0z" fill="#000"/>
<path d="M723.4 25.4h6.6v6.6h-6.6zM729.3 25.3h6.6v6.6h-6.6zM735.1 25.3h6.6v6.6h-6.6zM740.9 25.2h6.6v6.6h-6.6zM746.8 25.2h6.6v6.6h-6.6zM752.6 25.2h6.6v6.6h-6.6zM758.4 25.2h6.6v6.6h-6.6zM764.3 25.3h6.6v6.6h-6.6zM770.1 25.6h6.6v6.6h-6.6zM775.9 25.9h6.6v6.6h-6.6zM781.8 26.3h6.6v6.6h-6.6zM787.6 26.8h6.6v6.6h-6.6zM793.4 27.4h6.6v6.6h-6.6zM799.3 28.2h6.6v6.6h-6.6zM805.1 29.3h6.6v6.6h-6.6zM810.9 31.0h6.6v6.6h-6.6zM816.8 33.5h6.6v6.6h-6.6zM822.6 36.6h6.6v6.6h-6.6zM828.4 40.4h6.6v6.6h-6.6zM834.3 44.0h6.6v6.6h-6.6zM840.1 47.9h6.6v6.6h-6.6zM845.9 54.0h6.6v6.6h-6.6zM851.8 60.4h6.6v6.6h-6.6zM857.6 69.5h6.6v6.6h-6.6zM863.4 80.1h6.6v6.6h-6.6zM869.3 95.2h6.6v6.6h-6.6zM875.1 110.9h6.6v6.6h-6.6zM880.9 130.5h6.6v6.6h-6.6zM886.8 149.9h6.6v6.6h-6.6zM892.6 169.4h6.6v6.6h-6.6zM898.4 189.5h6.6v6.6h-6.6zM904.3 209.5h6.6v6.6h-6.6zM910.1 226.9h6.6v6.6h-6.6zM915.9 244.3h6.6v6.6h-6.6zM921.8 257.9h6.6v6.6h-6.6zM927.6 272.5h6.6v6.6h-6.6zM933.4 285.2h6.6v6.6h-6.6zM939.3 295.5h6.6v6.6h-6.6zM945.1 303.3h6.6v6.6h-6.6zM950.9 312.0h6.6v6.6h-6.6zM956.8 318.8h6.6v6.6h-6.6zM962.6 324.6h6.6v6.6h-6.6zM968.4 329.1h6.6v6.6h-6.6zM974.3 333.5h6.6v6.6h-6.6zM980.1 337.5h6.6v6.6h-6.6zM985.9 340.4h6.6v6.6h-6.6zM991.8 342.9h6.6v6.6h-6.6zM997.6 345.0h6.6v6.6h-6.6zM1003.4 346.8h6.6v6.6h-6.6zM1009.3 348.3h6.6v6.6h-6.6zM1015.1 349.5h6.6v6.6h-6.6zM1020.9 350.1h6.6v6.6h-6.6zM1026.8 350.6h6.6v6.6h-6.6zM1032.6 350.7h6.6v6.6h-6.6zM1038.4 350.1h6.6v6.6h-6.6zM1044.3 349.1h6.6v6.6h-6.6zM1050.1 348.0h6.6v6.6h-6.6zM1055.9 346.4h6.6v6.6h-6.6zM1061.8 345.1h6.6v6.6h-6.6zM1067.6 343.6h6.6v6.6h-6.6zM1073.4 340.6h6.6v6.6h-6.6zM1079.3 336.6h6.6v6.6h-6.6zM1085.1 333.6h6.6v6.6h-6.6zM1090.9 330.6h6.6v6.6h-6.6zM1096.8 326.9h6.6v6.6h-6.6zM1102.6 322.4h6.6v6.6h-6.6zM1108.4 317.7h6.6v6.6h-6.6zM1114.3 312.8h6.6v6.6h-6.6zM1120.1 308.4h6.6v6.6h-6.6zM1125.9 303.8h6.6v6.6h-6.6zM1131.8 298.8h6.6v6.6h-6.6zM1137.6 292.8h6.6v6.6h-6.6zM1143.4 287.1h6.6v6.6h-6.6zM1149.3 282.1h6.6v6.6h-6.6zM1155.1 279.3h6.6v6.6h-6.6zM1160.9 277.6h6.6v6.6h-6.6zM1166.8 276.8h6.6v6.6h-6.6zM1172.6 276.5h6.6v6.6h-6.6zM1178.4 277.8h6.6v6.6h-6.6zM1184.3 280.5h6.6v6.6h-6.6zM1190.1 284.7h6.6v6.6h-6.6zM1195.9 289.9h6.6v6.6h-6.6zM1201.8 297.8h6.6v6.6h-6.6zM1207.6 305.2h6.6v6.6h-6.6z" fill="#1414e6"/>
</g>
<line x1="896.30" y1="98.30" x2="935.00" y2="98.30" stroke="#4a4ae6" stroke-width="2" />
<path d="M943.4 98.3 L933 94.6 L933 102 Z" fill="#1414dd"/>
<line x1="757.00" y1="162.10" x2="789.80" y2="162.10" stroke="#404040" stroke-width="2" />
<path d="M749.3 162.1 L759.6 158.4 L759.6 165.8 Z" fill="#111"/>
<circle cx="161.9" cy="109.5" r="2.6" fill="#141414"/>
<circle cx="151.2" cy="150.6" r="2.6" fill="#141414"/>
<circle cx="143.2" cy="183.8" r="2.6" fill="#141414"/>
<circle cx="136.8" cy="213.3" r="2.6" fill="#141414"/>
<circle cx="130.6" cy="237.3" r="2.6" fill="#141414"/>
<circle cx="126.6" cy="257.8" r="2.6" fill="#141414"/>
<circle cx="122.8" cy="274.4" r="2.6" fill="#141414"/>
<circle cx="156.1" cy="106.2" r="2.6" fill="#2ee82e"/>
<circle cx="148.4" cy="146.9" r="2.6" fill="#2ee82e"/>
<circle cx="157.2" cy="149.9" r="2.6" fill="#2ee82e"/>
<circle cx="148.8" cy="183.8" r="2.6" fill="#2ee82e"/>
<circle cx="141.7" cy="212.9" r="2.6" fill="#2ee82e"/>
<circle cx="136.1" cy="235.1" r="2.6" fill="#2ee82e"/>
<circle cx="131.0" cy="256.7" r="2.6" fill="#2ee82e"/>
<circle cx="127.9" cy="272.9" r="2.6" fill="#2ee82e"/>
<circle cx="124.0" cy="289.0" r="2.6" fill="#2ee82e"/>
<circle cx="120.5" cy="301.0" r="2.6" fill="#2ee82e"/>
<circle cx="165.9" cy="162.1" r="2.6" fill="#ee2222"/>
<circle cx="156.1" cy="192.0" r="2.6" fill="#ee2222"/>
<circle cx="147.9" cy="217.8" r="2.6" fill="#ee2222"/>
<circle cx="141.2" cy="240.0" r="2.6" fill="#ee2222"/>
<circle cx="135.4" cy="258.9" r="2.6" fill="#ee2222"/>
<circle cx="130.6" cy="275.6" r="2.6" fill="#ee2222"/>
<circle cx="127.2" cy="288.9" r="2.6" fill="#ee2222"/>
<circle cx="123.2" cy="301.6" r="2.6" fill="#ee2222"/>
<circle cx="120.5" cy="310.1" r="2.6" fill="#ee2222"/>
<circle cx="118.2" cy="318.7" r="2.6" fill="#ee2222"/>
<circle cx="115.9" cy="325.7" r="2.6" fill="#ee2222"/>
<circle cx="136.5" cy="177.0" r="2.6" fill="#2828ee"/>
<circle cx="131.5" cy="207.5" r="2.6" fill="#2828ee"/>
<circle cx="127.2" cy="232.5" r="2.6" fill="#2828ee"/>
<circle cx="123.2" cy="254.8" r="2.6" fill="#2828ee"/>
<circle cx="120.6" cy="271.8" r="2.6" fill="#2828ee"/>
<circle cx="118.4" cy="287.5" r="2.6" fill="#2828ee"/>
<circle cx="115.8" cy="300.3" r="2.6" fill="#2828ee"/>
<circle cx="114.6" cy="310.2" r="2.6" fill="#2828ee"/>
<circle cx="113.1" cy="318.7" r="2.6" fill="#2828ee"/>
<circle cx="137.9" cy="178.0" r="2.6" fill="#f020f0"/>
<circle cx="132.3" cy="208.4" r="2.6" fill="#f020f0"/>
<circle cx="127.9" cy="233.3" r="2.6" fill="#f020f0"/>
<circle cx="123.9" cy="255.6" r="2.6" fill="#f020f0"/>
<circle cx="121.2" cy="272.5" r="2.6" fill="#f020f0"/>
<circle cx="119.0" cy="288.2" r="2.6" fill="#f020f0"/>
<circle cx="116.3" cy="301.0" r="2.6" fill="#f020f0"/>
<circle cx="115.1" cy="310.9" r="2.6" fill="#f020f0"/>
<circle cx="113.6" cy="319.4" r="2.6" fill="#f020f0"/>
<circle cx="116.4" cy="326.6" r="2.5" fill="#ee2222"/>
<circle cx="114.5" cy="332.8" r="2.5" fill="#ee2222"/>
<circle cx="112.7" cy="338.1" r="2.5" fill="#ee2222"/>
<circle cx="111.5" cy="342.7" r="2.5" fill="#ee2222"/>
<circle cx="110.6" cy="346.7" r="2.5" fill="#ee2222"/>
<circle cx="109.8" cy="350.1" r="2.5" fill="#ee2222"/>
<circle cx="109.2" cy="353.0" r="2.5" fill="#ee2222"/>
<circle cx="108.7" cy="355.5" r="2.5" fill="#ee2222"/>
<circle cx="108.3" cy="357.6" r="2.5" fill="#ee2222"/>
<circle cx="108.0" cy="359.5" r="2.5" fill="#ee2222"/>
<circle cx="107.7" cy="361.1" r="2.5" fill="#ee2222"/>
<circle cx="107.4" cy="362.5" r="2.5" fill="#ee2222"/>
<circle cx="107.2" cy="363.6" r="2.5" fill="#ee2222"/>
<circle cx="107.0" cy="364.7" r="2.5" fill="#ee2222"/>
<circle cx="106.8" cy="365.8" r="2.5" fill="#ee2222"/>
<circle cx="112.8" cy="326.0" r="2.7" fill="#f020f0"/>
<circle cx="111.3" cy="332.2" r="2.7" fill="#f020f0"/>
<circle cx="110.0" cy="337.5" r="2.7" fill="#f020f0"/>
<circle cx="109.2" cy="342.1" r="2.7" fill="#f020f0"/>
<circle cx="108.6" cy="346.1" r="2.7" fill="#f020f0"/>
<circle cx="108.1" cy="349.5" r="2.7" fill="#f020f0"/>
<circle cx="107.8" cy="352.4" r="2.7" fill="#f020f0"/>
<circle cx="107.5" cy="354.9" r="2.7" fill="#f020f0"/>
<circle cx="107.2" cy="357.0" r="2.7" fill="#f020f0"/>
<circle cx="107.0" cy="358.9" r="2.7" fill="#f020f0"/>
<circle cx="106.9" cy="360.5" r="2.7" fill="#f020f0"/>
<circle cx="106.7" cy="361.9" r="2.7" fill="#f020f0"/>
<circle cx="106.6" cy="363.0" r="2.7" fill="#f020f0"/>
<circle cx="106.5" cy="364.1" r="2.7" fill="#f020f0"/>
<circle cx="106.4" cy="365.2" r="2.7" fill="#f020f0"/>
<rect x="376.0" y="167.2" width="198.79999999999995" height="165.5" fill="none" stroke="#6a6a6a" stroke-width="1.4"/>
<line x1="388.50" y1="332.70" x2="388.50" y2="335.30" stroke="#6a6a6a" stroke-width="1.2" />
<text x="388.50" y="345.30" font-size="8.5" text-anchor="middle" fill="#3a3a3a" font-weight="bold" >0</text>
<line x1="373.40" y1="322.40" x2="376.00" y2="322.40" stroke="#6a6a6a" stroke-width="1.2" />
<text x="370.40" y="325.40" font-size="8.5" text-anchor="end" fill="#3a3a3a" font-weight="bold" >0</text>
<line x1="419.62" y1="332.70" x2="419.62" y2="335.30" stroke="#6a6a6a" stroke-width="1.2" />
<text x="419.62" y="345.30" font-size="8.5" text-anchor="middle" fill="#3a3a3a" font-weight="bold" >5</text>
<line x1="373.40" y1="296.53" x2="376.00" y2="296.53" stroke="#6a6a6a" stroke-width="1.2" />
<text x="370.40" y="299.53" font-size="8.5" text-anchor="end" fill="#3a3a3a" font-weight="bold" >5</text>
<line x1="450.75" y1="332.70" x2="450.75" y2="335.30" stroke="#6a6a6a" stroke-width="1.2" />
<text x="450.75" y="345.30" font-size="8.5" text-anchor="middle" fill="#3a3a3a" font-weight="bold" >10</text>
<line x1="373.40" y1="270.67" x2="376.00" y2="270.67" stroke="#6a6a6a" stroke-width="1.2" />
<text x="370.40" y="273.67" font-size="8.5" text-anchor="end" fill="#3a3a3a" font-weight="bold" >10</text>
<line x1="481.88" y1="332.70" x2="481.88" y2="335.30" stroke="#6a6a6a" stroke-width="1.2" />
<text x="481.88" y="345.30" font-size="8.5" text-anchor="middle" fill="#3a3a3a" font-weight="bold" >15</text>
<line x1="373.40" y1="244.80" x2="376.00" y2="244.80" stroke="#6a6a6a" stroke-width="1.2" />
<text x="370.40" y="247.80" font-size="8.5" text-anchor="end" fill="#3a3a3a" font-weight="bold" >15</text>
<line x1="513.00" y1="332.70" x2="513.00" y2="335.30" stroke="#6a6a6a" stroke-width="1.2" />
<text x="513.00" y="345.30" font-size="8.5" text-anchor="middle" fill="#3a3a3a" font-weight="bold" >20</text>
<line x1="373.40" y1="218.94" x2="376.00" y2="218.94" stroke="#6a6a6a" stroke-width="1.2" />
<text x="370.40" y="221.94" font-size="8.5" text-anchor="end" fill="#3a3a3a" font-weight="bold" >20</text>
<line x1="544.12" y1="332.70" x2="544.12" y2="335.30" stroke="#6a6a6a" stroke-width="1.2" />
<text x="544.12" y="345.30" font-size="8.5" text-anchor="middle" fill="#3a3a3a" font-weight="bold" >25</text>
<line x1="373.40" y1="193.07" x2="376.00" y2="193.07" stroke="#6a6a6a" stroke-width="1.2" />
<text x="370.40" y="196.07" font-size="8.5" text-anchor="end" fill="#3a3a3a" font-weight="bold" >25</text>
<line x1="575.25" y1="332.70" x2="575.25" y2="335.30" stroke="#6a6a6a" stroke-width="1.2" />
<text x="575.25" y="345.30" font-size="8.5" text-anchor="middle" fill="#3a3a3a" font-weight="bold" >30</text>
<line x1="373.40" y1="167.21" x2="376.00" y2="167.21" stroke="#6a6a6a" stroke-width="1.2" />
<text x="370.40" y="170.21" font-size="8.5" text-anchor="end" fill="#3a3a3a" font-weight="bold" >30</text>
<line x1="404.06" y1="332.70" x2="404.06" y2="334.30" stroke="#6a6a6a" stroke-width="1" />
<line x1="374.40" y1="309.47" x2="376.00" y2="309.47" stroke="#6a6a6a" stroke-width="1" />
<line x1="435.19" y1="332.70" x2="435.19" y2="334.30" stroke="#6a6a6a" stroke-width="1" />
<line x1="374.40" y1="283.60" x2="376.00" y2="283.60" stroke="#6a6a6a" stroke-width="1" />
<line x1="466.31" y1="332.70" x2="466.31" y2="334.30" stroke="#6a6a6a" stroke-width="1" />
<line x1="374.40" y1="257.74" x2="376.00" y2="257.74" stroke="#6a6a6a" stroke-width="1" />
<line x1="497.44" y1="332.70" x2="497.44" y2="334.30" stroke="#6a6a6a" stroke-width="1" />
<line x1="374.40" y1="231.87" x2="376.00" y2="231.87" stroke="#6a6a6a" stroke-width="1" />
<line x1="528.56" y1="332.70" x2="528.56" y2="334.30" stroke="#6a6a6a" stroke-width="1" />
<line x1="374.40" y1="206.01" x2="376.00" y2="206.01" stroke="#6a6a6a" stroke-width="1" />
<line x1="559.69" y1="332.70" x2="559.69" y2="334.30" stroke="#6a6a6a" stroke-width="1" />
<line x1="374.40" y1="180.14" x2="376.00" y2="180.14" stroke="#6a6a6a" stroke-width="1" />
<text x="475.30" y="364.00" font-size="11" text-anchor="middle" fill="#444" font-weight="bold" >Z' (ohm)</text>
<text transform="translate(354.8,258.5) rotate(-90)" font-size="11" font-weight="bold" text-anchor="middle" fill="#444">Z'' (ohm)</text>
<circle cx="470.7" cy="167.2" r="2.2" fill="#2ee82e"/>
<circle cx="466.2" cy="191.2" r="2.2" fill="#2ee82e"/>
<circle cx="461.8" cy="212.0" r="2.2" fill="#2ee82e"/>
<circle cx="457.8" cy="229.0" r="2.2" fill="#2ee82e"/>
<circle cx="455.6" cy="243.5" r="2.2" fill="#2ee82e"/>
<circle cx="452.2" cy="256.1" r="2.2" fill="#2ee82e"/>
<circle cx="450.0" cy="267.0" r="2.2" fill="#2ee82e"/>
<circle cx="448.0" cy="276.5" r="2.2" fill="#2ee82e"/>
<circle cx="446.2" cy="284.5" r="2.2" fill="#2ee82e"/>
<circle cx="462.7" cy="190.6" r="2.2" fill="#ee2222"/>
<circle cx="459.6" cy="212.1" r="2.2" fill="#ee2222"/>
<circle cx="457.3" cy="230.6" r="2.2" fill="#ee2222"/>
<circle cx="455.1" cy="244.6" r="2.2" fill="#ee2222"/>
<circle cx="453.3" cy="258.3" r="2.2" fill="#ee2222"/>
<circle cx="451.0" cy="269.0" r="2.2" fill="#ee2222"/>
<circle cx="449.0" cy="278.0" r="2.2" fill="#ee2222"/>
<circle cx="447.0" cy="286.0" r="2.2" fill="#ee2222"/>
<circle cx="466.2" cy="176.6" r="2.2" fill="#2828ee"/>
<circle cx="461.8" cy="199.4" r="2.2" fill="#2828ee"/>
<circle cx="458.2" cy="218.8" r="2.2" fill="#2828ee"/>
<circle cx="456.0" cy="235.7" r="2.2" fill="#2828ee"/>
<circle cx="454.4" cy="249.9" r="2.2" fill="#2828ee"/>
<circle cx="452.9" cy="262.8" r="2.2" fill="#2828ee"/>
<circle cx="450.5" cy="273.0" r="2.2" fill="#2828ee"/>
<circle cx="448.5" cy="281.5" r="2.2" fill="#2828ee"/>
<circle cx="446.8" cy="288.5" r="2.2" fill="#2828ee"/>
<circle cx="476.2" cy="180.4" r="2.2" fill="#f020f0"/>
<circle cx="470.7" cy="204.6" r="2.2" fill="#f020f0"/>
<circle cx="464.9" cy="223.9" r="2.2" fill="#f020f0"/>
<circle cx="461.1" cy="240.6" r="2.2" fill="#f020f0"/>
<circle cx="457.8" cy="254.3" r="2.2" fill="#f020f0"/>
<circle cx="455.2" cy="265.5" r="2.2" fill="#f020f0"/>
<circle cx="452.5" cy="275.0" r="2.2" fill="#f020f0"/>
<circle cx="450.2" cy="283.0" r="2.2" fill="#f020f0"/>
<circle cx="448.0" cy="290.0" r="2.2" fill="#f020f0"/>
<polyline points="431.1,312.8 437.0,308.5 443.0,305.5 449.8,303.0 457.0,301.8 464.0,301.6 473.3,303.3 482.2,306.7 488.9,311.1 492.5,315.0 494.4,317.8 496.5,316.5 498.5,310.0 500.5,303.0 502.2,297.8 504.4,291.1" fill="none" stroke="#2ee82e" stroke-width="4.2" stroke-linejoin="round" stroke-linecap="round" transform="translate(-0.6,0.6)"/>
<polyline points="431.1,312.8 437.0,308.5 443.0,305.5 449.8,303.0 457.0,301.8 464.0,301.6 473.3,303.3 482.2,306.7 488.9,311.1 492.5,315.0 494.4,317.8 496.5,316.5 498.5,310.0 500.5,303.0 502.2,297.8 504.4,291.1" fill="none" stroke="#141414" stroke-width="4.2" stroke-linejoin="round" stroke-linecap="round"/>
<circle cx="445.4" cy="290.0" r="2.4" fill="#ee2222"/>
<circle cx="447.4" cy="290.5" r="2.4" fill="#f020f0"/>
<circle cx="445.1" cy="291.2" r="2.4" fill="#ee2222"/>
<circle cx="447.1" cy="291.7" r="2.4" fill="#f020f0"/>
<circle cx="444.7" cy="292.5" r="2.4" fill="#ee2222"/>
<circle cx="446.7" cy="293.0" r="2.4" fill="#f020f0"/>
<circle cx="444.4" cy="293.7" r="2.4" fill="#ee2222"/>
<circle cx="446.4" cy="294.2" r="2.4" fill="#f020f0"/>
<circle cx="444.0" cy="295.0" r="2.4" fill="#ee2222"/>
<circle cx="446.0" cy="295.5" r="2.4" fill="#f020f0"/>
<circle cx="443.7" cy="296.2" r="2.4" fill="#ee2222"/>
<circle cx="445.7" cy="296.7" r="2.4" fill="#f020f0"/>
<circle cx="443.4" cy="297.4" r="2.4" fill="#ee2222"/>
<circle cx="445.4" cy="297.9" r="2.4" fill="#f020f0"/>
<circle cx="443.0" cy="298.7" r="2.4" fill="#ee2222"/>
<circle cx="445.0" cy="299.2" r="2.4" fill="#f020f0"/>
<circle cx="442.7" cy="299.9" r="2.4" fill="#ee2222"/>
<circle cx="444.7" cy="300.4" r="2.4" fill="#f020f0"/>
<circle cx="442.3" cy="301.2" r="2.4" fill="#ee2222"/>
<circle cx="444.3" cy="301.7" r="2.4" fill="#f020f0"/>
<circle cx="442.0" cy="302.4" r="2.4" fill="#ee2222"/>
<circle cx="444.0" cy="302.9" r="2.4" fill="#f020f0"/>
<circle cx="441.7" cy="303.6" r="2.4" fill="#ee2222"/>
<circle cx="443.7" cy="304.1" r="2.4" fill="#f020f0"/>
<circle cx="441.3" cy="304.9" r="2.4" fill="#ee2222"/>
<circle cx="443.3" cy="305.4" r="2.4" fill="#f020f0"/>
<circle cx="441.0" cy="306.1" r="2.4" fill="#ee2222"/>
<circle cx="443.0" cy="306.6" r="2.4" fill="#f020f0"/>
<circle cx="440.6" cy="307.4" r="2.4" fill="#ee2222"/>
<circle cx="442.6" cy="307.9" r="2.4" fill="#f020f0"/>
<circle cx="440.3" cy="308.6" r="2.4" fill="#ee2222"/>
<circle cx="442.3" cy="309.1" r="2.4" fill="#f020f0"/>
<circle cx="440.0" cy="309.8" r="2.4" fill="#ee2222"/>
<circle cx="442.0" cy="310.3" r="2.4" fill="#f020f0"/>
<circle cx="439.6" cy="311.1" r="2.4" fill="#ee2222"/>
<circle cx="441.6" cy="311.6" r="2.4" fill="#f020f0"/>
<circle cx="439.3" cy="312.3" r="2.4" fill="#ee2222"/>
<circle cx="441.3" cy="312.8" r="2.4" fill="#f020f0"/>
<circle cx="438.9" cy="313.6" r="2.4" fill="#ee2222"/>
<circle cx="440.9" cy="314.1" r="2.4" fill="#f020f0"/>
<circle cx="438.6" cy="314.8" r="2.4" fill="#ee2222"/>
<circle cx="440.6" cy="315.3" r="2.4" fill="#f020f0"/>
<circle cx="438.3" cy="316.0" r="2.4" fill="#ee2222"/>
<circle cx="440.3" cy="316.5" r="2.4" fill="#f020f0"/>
<circle cx="437.9" cy="317.3" r="2.4" fill="#ee2222"/>
<circle cx="439.9" cy="317.8" r="2.4" fill="#f020f0"/>
<circle cx="437.6" cy="318.5" r="2.4" fill="#ee2222"/>
<circle cx="439.6" cy="319.0" r="2.4" fill="#f020f0"/>
<circle cx="437.2" cy="319.8" r="2.4" fill="#ee2222"/>
<circle cx="439.2" cy="320.3" r="2.4" fill="#f020f0"/>
<circle cx="436.9" cy="321.0" r="2.4" fill="#ee2222"/>
<circle cx="438.9" cy="321.5" r="2.4" fill="#f020f0"/>
<circle cx="438.0" cy="318.5" r="2.6" fill="#ee2222"/>
<circle cx="436.9" cy="318.8" r="2.6" fill="#ee2222"/>
<circle cx="435.9" cy="319.0" r="2.6" fill="#ee2222"/>
<circle cx="434.8" cy="319.2" r="2.6" fill="#ee2222"/>
<circle cx="433.8" cy="319.5" r="2.6" fill="#ee2222"/>
<circle cx="432.7" cy="319.8" r="2.6" fill="#ee2222"/>
<circle cx="431.6" cy="320.0" r="2.6" fill="#ee2222"/>
<circle cx="430.6" cy="320.2" r="2.6" fill="#ee2222"/>
<circle cx="429.5" cy="320.5" r="2.6" fill="#ee2222"/>
<circle cx="439.0" cy="323.5" r="2.8" fill="#f020f0"/>
<circle cx="437.6" cy="323.6" r="2.8" fill="#f020f0"/>
<circle cx="436.2" cy="323.8" r="2.8" fill="#f020f0"/>
<circle cx="434.9" cy="323.9" r="2.8" fill="#f020f0"/>
<circle cx="433.5" cy="324.0" r="2.8" fill="#f020f0"/>
<circle cx="432.1" cy="324.1" r="2.8" fill="#f020f0"/>
<circle cx="430.8" cy="324.2" r="2.8" fill="#f020f0"/>
<circle cx="429.4" cy="324.4" r="2.8" fill="#f020f0"/>
<circle cx="428.0" cy="324.5" r="2.8" fill="#f020f0"/>
<circle cx="500.5" cy="292.0" r="2.2" fill="#2ee82e"/>
<circle cx="501.6" cy="288.5" r="2.2" fill="#2ee82e"/>
<circle cx="502.6" cy="284.7" r="2.2" fill="#2ee82e"/>
<circle cx="503.6" cy="280.5" r="2.2" fill="#2ee82e"/>
<circle cx="504.6" cy="275.8" r="2.2" fill="#2ee82e"/>
<circle cx="505.6" cy="270.5" r="2.2" fill="#2ee82e"/>
<circle cx="506.7" cy="264.5" r="2.2" fill="#2ee82e"/>
<circle cx="508.0" cy="257.8" r="2.2" fill="#2ee82e"/>
<circle cx="509.3" cy="250.5" r="2.2" fill="#2ee82e"/>
<circle cx="511.0" cy="242.5" r="2.2" fill="#2ee82e"/>
<circle cx="513.0" cy="233.5" r="2.2" fill="#2ee82e"/>
<circle cx="515.4" cy="221.9" r="2.2" fill="#2ee82e"/>
<circle cx="517.8" cy="202.8" r="2.2" fill="#2ee82e"/>
<circle cx="521.6" cy="179.8" r="2.2" fill="#2ee82e"/>
<circle cx="503.5" cy="293.0" r="2.2" fill="#141414"/>
<circle cx="504.6" cy="289.5" r="2.2" fill="#141414"/>
<circle cx="505.6" cy="286.0" r="2.2" fill="#141414"/>
<circle cx="506.7" cy="282.2" r="2.2" fill="#141414"/>
<circle cx="507.8" cy="278.0" r="2.2" fill="#141414"/>
<circle cx="508.8" cy="273.2" r="2.2" fill="#141414"/>
<circle cx="510.0" cy="268.0" r="2.2" fill="#141414"/>
<circle cx="511.4" cy="262.0" r="2.2" fill="#141414"/>
<circle cx="513.0" cy="255.0" r="2.2" fill="#141414"/>
<circle cx="514.9" cy="247.5" r="2.2" fill="#141414"/>
<circle cx="517.2" cy="239.0" r="2.2" fill="#141414"/>
<circle cx="520.6" cy="224.3" r="2.2" fill="#141414"/>
<circle cx="524.0" cy="203.7" r="2.2" fill="#141414"/>
<circle cx="526.4" cy="178.9" r="2.2" fill="#141414"/>
</svg>
</body></html>
